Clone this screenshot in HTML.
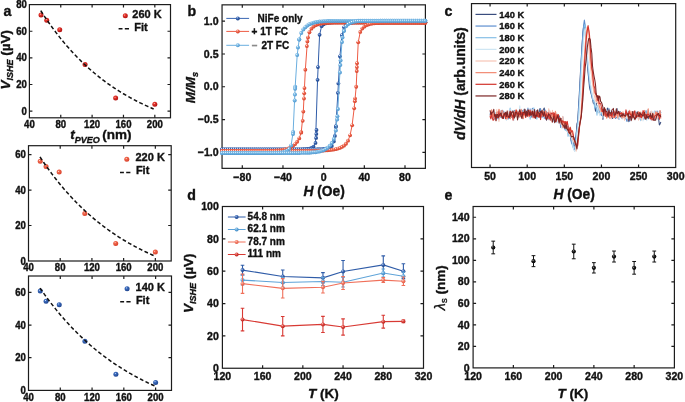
<!DOCTYPE html>
<html><head><meta charset="utf-8"><title>Figure</title><style>html,body{margin:0;padding:0;background:#fff;width:685px;height:402px;overflow:hidden}svg{display:block;font-family:"Liberation Sans",sans-serif;will-change:transform}svg text{stroke:#111;stroke-width:0.35px}</style></head><body>
<svg width="685" height="402" viewBox="0 0 685 402" font-family="Liberation Sans, sans-serif"><defs>
<radialGradient id="gr" cx="0.38" cy="0.35" r="0.65">
 <stop offset="0" stop-color="#ffd8d0"/><stop offset="0.25" stop-color="#e83a30"/><stop offset="1" stop-color="#b01010"/></radialGradient>
<radialGradient id="go" cx="0.38" cy="0.35" r="0.65">
 <stop offset="0" stop-color="#ffe4dc"/><stop offset="0.25" stop-color="#f26a50"/><stop offset="1" stop-color="#d8402a"/></radialGradient>
<radialGradient id="gb" cx="0.38" cy="0.35" r="0.65">
 <stop offset="0" stop-color="#d8e6ff"/><stop offset="0.25" stop-color="#3f6fc0"/><stop offset="1" stop-color="#1f4590"/></radialGradient>
<radialGradient id="gk" cx="0.38" cy="0.35" r="0.65">
 <stop offset="0" stop-color="#bbbbbb"/><stop offset="0.3" stop-color="#222"/><stop offset="1" stop-color="#000"/></radialGradient>
<radialGradient id="wdb" cx="0.36" cy="0.32" r="0.7"><stop offset="0" stop-color="#ffffff"/><stop offset="0.3" stop-color="#3b68b5"/><stop offset="1" stop-color="#1f4488"/></radialGradient><radialGradient id="wrd" cx="0.36" cy="0.32" r="0.7"><stop offset="0" stop-color="#ffffff"/><stop offset="0.3" stop-color="#f06a52"/><stop offset="1" stop-color="#d4402a"/></radialGradient><radialGradient id="wlb" cx="0.36" cy="0.32" r="0.7"><stop offset="0" stop-color="#ffffff"/><stop offset="0.3" stop-color="#7cbbe6"/><stop offset="1" stop-color="#4f97cf"/></radialGradient><radialGradient id="sdb" cx="0.36" cy="0.32" r="0.7"><stop offset="0" stop-color="#bacae5"/><stop offset="0.4" stop-color="#3b68b5"/><stop offset="1" stop-color="#1f4488"/></radialGradient><radialGradient id="srd" cx="0.36" cy="0.32" r="0.7"><stop offset="0" stop-color="#facbc2"/><stop offset="0.4" stop-color="#f06a52"/><stop offset="1" stop-color="#d4402a"/></radialGradient><radialGradient id="slb" cx="0.36" cy="0.32" r="0.7"><stop offset="0" stop-color="#d1e7f6"/><stop offset="0.4" stop-color="#7cbbe6"/><stop offset="1" stop-color="#4f97cf"/></radialGradient><radialGradient id="sd1" cx="0.36" cy="0.32" r="0.7"><stop offset="0" stop-color="#bacae5"/><stop offset="0.4" stop-color="#3b68b5"/><stop offset="1" stop-color="#1f4488"/></radialGradient><radialGradient id="sd2" cx="0.36" cy="0.32" r="0.7"><stop offset="0" stop-color="#cbe3f4"/><stop offset="0.4" stop-color="#6aaedf"/><stop offset="1" stop-color="#3f88c4"/></radialGradient><radialGradient id="sd3" cx="0.36" cy="0.32" r="0.7"><stop offset="0" stop-color="#fbd3cb"/><stop offset="0.4" stop-color="#f4806a"/><stop offset="1" stop-color="#e05a44"/></radialGradient><radialGradient id="sd4" cx="0.36" cy="0.32" r="0.7"><stop offset="0" stop-color="#f4bfbc"/><stop offset="0.4" stop-color="#e04840"/><stop offset="1" stop-color="#b82420"/></radialGradient></defs>
<rect x="29.4" y="4.6" width="141.1" height="113.2" fill="none" stroke="#1c1c1c" stroke-width="1.2"/>
<path d="M60.76 117.8v-3.0M60.76 4.6v3.0M92.11 117.8v-3.0M92.11 4.6v3.0M123.47 117.8v-3.0M123.47 4.6v3.0M154.82 117.8v-3.0M154.82 4.6v3.0" stroke="#1c1c1c" stroke-width="1.2" fill="none"/>
<path d="M29.4 111.14h3.0M170.5 111.14h-3.0M29.4 84.51h3.0M170.5 84.51h-3.0M29.4 57.87h3.0M170.5 57.87h-3.0M29.4 31.24h3.0M170.5 31.24h-3.0" stroke="#1c1c1c" stroke-width="1.2" fill="none"/>
<text transform="translate(29.4 128) scale(1 1.15)" font-size="9.6" text-anchor="middle" font-weight="bold" font-style="normal" fill="#111" >40</text>
<text transform="translate(60.76 128) scale(1 1.15)" font-size="9.6" text-anchor="middle" font-weight="bold" font-style="normal" fill="#111" >80</text>
<text transform="translate(92.11 128) scale(1 1.15)" font-size="9.6" text-anchor="middle" font-weight="bold" font-style="normal" fill="#111" >120</text>
<text transform="translate(123.47 128) scale(1 1.15)" font-size="9.6" text-anchor="middle" font-weight="bold" font-style="normal" fill="#111" >160</text>
<text transform="translate(154.82 128) scale(1 1.15)" font-size="9.6" text-anchor="middle" font-weight="bold" font-style="normal" fill="#111" >200</text>
<text transform="translate(26.8 114.64) scale(1 1.15)" font-size="9.6" text-anchor="end" font-weight="bold" font-style="normal" fill="#111" >0</text>
<text transform="translate(26.8 88.01) scale(1 1.15)" font-size="9.6" text-anchor="end" font-weight="bold" font-style="normal" fill="#111" >20</text>
<text transform="translate(26.8 61.37) scale(1 1.15)" font-size="9.6" text-anchor="end" font-weight="bold" font-style="normal" fill="#111" >40</text>
<text transform="translate(26.8 34.74) scale(1 1.15)" font-size="9.6" text-anchor="end" font-weight="bold" font-style="normal" fill="#111" >60</text>
<text transform="translate(26.8 8.1) scale(1 1.15)" font-size="9.6" text-anchor="end" font-weight="bold" font-style="normal" fill="#111" >80</text>
<circle cx="41" cy="14.9" r="2.5" fill="url(#gr)"/>
<circle cx="46.72" cy="20.3" r="2.5" fill="url(#gr)"/>
<circle cx="59.74" cy="29.7" r="2.5" fill="url(#gr)"/>
<circle cx="85.06" cy="64.6" r="2.5" fill="url(#gr)"/>
<circle cx="115.63" cy="98" r="2.5" fill="url(#gr)"/>
<circle cx="154.82" cy="104.2" r="2.5" fill="url(#gr)"/>
<path d="M40.77 10.67 L41.94 12.5 L43.12 14.3 L44.29 16.08 L45.47 17.84 L46.65 19.57 L47.82 21.28 L49 22.96 L50.17 24.63 L51.35 26.26 L52.52 27.88 L53.7 29.48 L54.88 31.05 L56.05 32.6 L57.23 34.13 L58.4 35.64 L59.58 37.13 L60.76 38.6 L61.93 40.05 L63.11 41.48 L64.28 42.89 L65.46 44.28 L66.63 45.65 L67.81 47 L68.99 48.34 L70.16 49.66 L71.34 50.95 L72.51 52.24 L73.69 53.5 L74.87 54.74 L76.04 55.97 L77.22 57.19 L78.39 58.38 L79.57 59.56 L80.74 60.73 L81.92 61.87 L83.1 63.01 L84.27 64.12 L85.45 65.22 L86.62 66.31 L87.8 67.38 L88.98 68.44 L90.15 69.48 L91.33 70.51 L92.5 71.52 L93.68 72.53 L94.85 73.51 L96.03 74.49 L97.21 75.45 L98.38 76.39 L99.56 77.33 L100.73 78.25 L101.91 79.16 L103.09 80.06 L104.26 80.94 L105.44 81.81 L106.61 82.67 L107.79 83.52 L108.96 84.36 L110.14 85.19 L111.32 86 L112.49 86.8 L113.67 87.6 L114.84 88.38 L116.02 89.15 L117.2 89.91 L118.37 90.66 L119.55 91.4 L120.72 92.13 L121.9 92.85 L123.07 93.56 L124.25 94.26 L125.43 94.95 L126.6 95.63 L127.78 96.31 L128.95 96.97 L130.13 97.62 L131.31 98.27 L132.48 98.91 L133.66 99.53 L134.83 100.15 L136.01 100.76 L137.18 101.37 L138.36 101.96 L139.54 102.55 L140.71 103.12 L141.89 103.69 L143.06 104.26 L144.24 104.81 L145.42 105.36 L146.59 105.9 L147.77 106.43 L148.94 106.96 L150.12 107.48 L151.29 107.99 L152.47 108.49 L153.65 108.99" fill="none" stroke="#111" stroke-width="1.5" stroke-dasharray="3.8 2.4"/>
<circle cx="125.3" cy="15.8" r="2.5" fill="url(#gr)"/>
<text x="132.3" y="18.1" font-size="11" text-anchor="start" font-weight="bold" font-style="normal" fill="#111" >260 K</text>
<path d="M118.6 28.8h3.9M124.8 28.8h4.2" stroke="#111" stroke-width="1.4"/>
<text x="134.3" y="30.5" font-size="11" text-anchor="start" font-weight="bold" font-style="normal" fill="#111" >Fit</text>
<rect x="28.5" y="145.7" width="142.7" height="115.3" fill="none" stroke="#1c1c1c" stroke-width="1.2"/>
<path d="M60.21 261v-3.0M60.21 145.7v3.0M91.92 261v-3.0M91.92 145.7v3.0M123.63 261v-3.0M123.63 145.7v3.0M155.34 261v-3.0M155.34 145.7v3.0" stroke="#1c1c1c" stroke-width="1.2" fill="none"/>
<path d="M28.5 225.52h3.0M171.2 225.52h-3.0M28.5 190.05h3.0M171.2 190.05h-3.0M28.5 154.57h3.0M171.2 154.57h-3.0" stroke="#1c1c1c" stroke-width="1.2" fill="none"/>
<text transform="translate(28.5 271.2) scale(1 1.15)" font-size="9.6" text-anchor="middle" font-weight="bold" font-style="normal" fill="#111" >40</text>
<text transform="translate(60.21 271.2) scale(1 1.15)" font-size="9.6" text-anchor="middle" font-weight="bold" font-style="normal" fill="#111" >80</text>
<text transform="translate(91.92 271.2) scale(1 1.15)" font-size="9.6" text-anchor="middle" font-weight="bold" font-style="normal" fill="#111" >120</text>
<text transform="translate(123.63 271.2) scale(1 1.15)" font-size="9.6" text-anchor="middle" font-weight="bold" font-style="normal" fill="#111" >160</text>
<text transform="translate(155.34 271.2) scale(1 1.15)" font-size="9.6" text-anchor="middle" font-weight="bold" font-style="normal" fill="#111" >200</text>
<text transform="translate(25.9 264.5) scale(1 1.15)" font-size="9.6" text-anchor="end" font-weight="bold" font-style="normal" fill="#111" >0</text>
<text transform="translate(25.9 229.03) scale(1 1.15)" font-size="9.6" text-anchor="end" font-weight="bold" font-style="normal" fill="#111" >20</text>
<text transform="translate(25.9 193.55) scale(1 1.15)" font-size="9.6" text-anchor="end" font-weight="bold" font-style="normal" fill="#111" >40</text>
<text transform="translate(25.9 158.07) scale(1 1.15)" font-size="9.6" text-anchor="end" font-weight="bold" font-style="normal" fill="#111" >60</text>
<circle cx="40.23" cy="161.3" r="2.5" fill="url(#go)"/>
<circle cx="46.02" cy="166.5" r="2.5" fill="url(#go)"/>
<circle cx="59.18" cy="172.1" r="2.5" fill="url(#go)"/>
<circle cx="84.79" cy="213.6" r="2.5" fill="url(#go)"/>
<circle cx="115.71" cy="243.4" r="2.5" fill="url(#go)"/>
<circle cx="155.34" cy="252" r="2.5" fill="url(#go)"/>
<path d="M40 156.94 L41.18 158.73 L42.37 160.5 L43.56 162.25 L44.75 163.97 L45.94 165.67 L47.13 167.35 L48.32 169.01 L49.51 170.64 L50.7 172.26 L51.89 173.85 L53.08 175.42 L54.27 176.98 L55.45 178.51 L56.64 180.02 L57.83 181.51 L59.02 182.99 L60.21 184.44 L61.4 185.88 L62.59 187.3 L63.78 188.69 L64.97 190.08 L66.16 191.44 L67.35 192.78 L68.54 194.11 L69.72 195.42 L70.91 196.72 L72.1 197.99 L73.29 199.25 L74.48 200.5 L75.67 201.73 L76.86 202.94 L78.05 204.14 L79.24 205.32 L80.43 206.48 L81.62 207.63 L82.81 208.77 L83.99 209.89 L85.18 211 L86.37 212.09 L87.56 213.17 L88.75 214.23 L89.94 215.28 L91.13 216.32 L92.32 217.34 L93.51 218.35 L94.7 219.35 L95.89 220.33 L97.08 221.31 L98.26 222.26 L99.45 223.21 L100.64 224.15 L101.83 225.07 L103.02 225.98 L104.21 226.88 L105.4 227.76 L106.59 228.64 L107.78 229.5 L108.97 230.36 L110.16 231.2 L111.35 232.03 L112.53 232.85 L113.72 233.66 L114.91 234.46 L116.1 235.25 L117.29 236.02 L118.48 236.79 L119.67 237.55 L120.86 238.3 L122.05 239.04 L123.24 239.77 L124.43 240.49 L125.62 241.2 L126.8 241.9 L127.99 242.59 L129.18 243.28 L130.37 243.95 L131.56 244.62 L132.75 245.28 L133.94 245.92 L135.13 246.56 L136.32 247.2 L137.51 247.82 L138.7 248.44 L139.89 249.04 L141.07 249.65 L142.26 250.24 L143.45 250.82 L144.64 251.4 L145.83 251.97 L147.02 252.53 L148.21 253.09 L149.4 253.63 L150.59 254.17 L151.78 254.71 L152.97 255.23 L154.16 255.75" fill="none" stroke="#111" stroke-width="1.5" stroke-dasharray="3.8 2.4"/>
<circle cx="126.8" cy="159.2" r="2.5" fill="url(#go)"/>
<text x="135.5" y="161.2" font-size="11" text-anchor="start" font-weight="bold" font-style="normal" fill="#111" >220 K</text>
<path d="M120 172.5h3.9M126.2 172.5h4.2" stroke="#111" stroke-width="1.4"/>
<text x="135.9" y="174.3" font-size="11" text-anchor="start" font-weight="bold" font-style="normal" fill="#111" >Fit</text>
<rect x="28.5" y="276" width="143" height="114.4" fill="none" stroke="#1c1c1c" stroke-width="1.2"/>
<path d="M60.28 390.4v-3.0M60.28 276v3.0M92.06 390.4v-3.0M92.06 276v3.0M123.83 390.4v-3.0M123.83 276v3.0M155.61 390.4v-3.0M155.61 276v3.0" stroke="#1c1c1c" stroke-width="1.2" fill="none"/>
<path d="M28.5 357.71h3.0M171.5 357.71h-3.0M28.5 325.03h3.0M171.5 325.03h-3.0M28.5 292.34h3.0M171.5 292.34h-3.0" stroke="#1c1c1c" stroke-width="1.2" fill="none"/>
<text transform="translate(28.5 400.6) scale(1 1.15)" font-size="9.6" text-anchor="middle" font-weight="bold" font-style="normal" fill="#111" >40</text>
<text transform="translate(60.28 400.6) scale(1 1.15)" font-size="9.6" text-anchor="middle" font-weight="bold" font-style="normal" fill="#111" >80</text>
<text transform="translate(92.06 400.6) scale(1 1.15)" font-size="9.6" text-anchor="middle" font-weight="bold" font-style="normal" fill="#111" >120</text>
<text transform="translate(123.83 400.6) scale(1 1.15)" font-size="9.6" text-anchor="middle" font-weight="bold" font-style="normal" fill="#111" >160</text>
<text transform="translate(155.61 400.6) scale(1 1.15)" font-size="9.6" text-anchor="middle" font-weight="bold" font-style="normal" fill="#111" >200</text>
<text transform="translate(25.9 393.9) scale(1 1.15)" font-size="9.6" text-anchor="end" font-weight="bold" font-style="normal" fill="#111" >0</text>
<text transform="translate(25.9 361.22) scale(1 1.15)" font-size="9.6" text-anchor="end" font-weight="bold" font-style="normal" fill="#111" >20</text>
<text transform="translate(25.9 328.53) scale(1 1.15)" font-size="9.6" text-anchor="end" font-weight="bold" font-style="normal" fill="#111" >40</text>
<text transform="translate(25.9 295.85) scale(1 1.15)" font-size="9.6" text-anchor="end" font-weight="bold" font-style="normal" fill="#111" >60</text>
<circle cx="40.26" cy="291" r="2.5" fill="url(#gb)"/>
<circle cx="46.06" cy="301.2" r="2.5" fill="url(#gb)"/>
<circle cx="59.25" cy="304.7" r="2.5" fill="url(#gb)"/>
<circle cx="84.91" cy="341.3" r="2.5" fill="url(#gb)"/>
<circle cx="115.89" cy="374.2" r="2.5" fill="url(#gb)"/>
<circle cx="155.61" cy="382.4" r="2.5" fill="url(#gb)"/>
<path d="M40.02 288.07 L41.21 289.79 L42.4 291.49 L43.59 293.17 L44.79 294.83 L45.98 296.47 L47.17 298.09 L48.36 299.69 L49.55 301.27 L50.74 302.84 L51.94 304.38 L53.13 305.9 L54.32 307.41 L55.51 308.89 L56.7 310.36 L57.89 311.81 L59.09 313.25 L60.28 314.66 L61.47 316.06 L62.66 317.44 L63.85 318.8 L65.04 320.15 L66.24 321.48 L67.43 322.8 L68.62 324.1 L69.81 325.38 L71 326.65 L72.19 327.9 L73.39 329.14 L74.58 330.36 L75.77 331.56 L76.96 332.76 L78.15 333.93 L79.34 335.1 L80.54 336.25 L81.73 337.38 L82.92 338.5 L84.11 339.61 L85.3 340.7 L86.49 341.78 L87.69 342.85 L88.88 343.9 L90.07 344.95 L91.26 345.98 L92.45 346.99 L93.64 347.99 L94.84 348.99 L96.03 349.97 L97.22 350.93 L98.41 351.89 L99.6 352.83 L100.79 353.77 L101.99 354.69 L103.18 355.6 L104.37 356.49 L105.56 357.38 L106.75 358.26 L107.94 359.13 L109.14 359.98 L110.33 360.83 L111.52 361.66 L112.71 362.49 L113.9 363.3 L115.09 364.11 L116.29 364.9 L117.48 365.69 L118.67 366.46 L119.86 367.23 L121.05 367.98 L122.24 368.73 L123.44 369.47 L124.63 370.2 L125.82 370.92 L127.01 371.63 L128.2 372.34 L129.39 373.03 L130.59 373.72 L131.78 374.39 L132.97 375.06 L134.16 375.72 L135.35 376.38 L136.54 377.02 L137.74 377.66 L138.93 378.29 L140.12 378.91 L141.31 379.53 L142.5 380.13 L143.69 380.73 L144.89 381.32 L146.08 381.91 L147.27 382.49 L148.46 383.06 L149.65 383.62 L150.84 384.18 L152.04 384.73 L153.23 385.27 L154.42 385.81" fill="none" stroke="#111" stroke-width="1.5" stroke-dasharray="3.8 2.4"/>
<circle cx="127.1" cy="288.7" r="2.5" fill="url(#gb)"/>
<text x="135.6" y="290.8" font-size="11" text-anchor="start" font-weight="bold" font-style="normal" fill="#111" >140 K</text>
<path d="M120.2 301.8h3.9M126.4 301.8h4.2" stroke="#111" stroke-width="1.4"/>
<text x="135.9" y="303.8" font-size="11" text-anchor="start" font-weight="bold" font-style="normal" fill="#111" >Fit</text>
<text x="3.6" y="16.1" font-size="14.2" text-anchor="start" font-weight="bold" font-style="normal" fill="#111" >a</text>
<text transform="translate(9.9 89.6) rotate(-90)" font-size="13.5" font-weight="bold" fill="#111"><tspan font-style="italic">V</tspan><tspan font-style="italic" font-size="9" dy="2.8">ISHE</tspan><tspan dy="-2.8"> (µV)</tspan></text>
<text x="70.2" y="139.2" font-size="13.5" font-weight="bold" fill="#111"><tspan font-style="italic">t</tspan><tspan font-style="italic" font-size="9" dy="3.6">PVEO</tspan><tspan dy="-3.6" dx="-1.2"> (nm)</tspan></text>
<rect x="222.05" y="4.85" width="203.35" height="163.5" fill="none" stroke="#1c1c1c" stroke-width="1.2"/>
<path d="M242.3 168.35v-3.0M242.3 4.85v3.0M282.97 168.35v-3.0M282.97 4.85v3.0M323.65 168.35v-3.0M323.65 4.85v3.0M364.33 168.35v-3.0M364.33 4.85v3.0M405 168.35v-3.0M405 4.85v3.0" stroke="#1c1c1c" stroke-width="1.2" fill="none"/>
<path d="M222.05 21.2h3.0M425.4 21.2h-3.0M222.05 53.98h3.0M425.4 53.98h-3.0M222.05 86.75h3.0M425.4 86.75h-3.0M222.05 119.53h3.0M425.4 119.53h-3.0M222.05 152.3h3.0M425.4 152.3h-3.0" stroke="#1c1c1c" stroke-width="1.2" fill="none"/>
<text transform="translate(242.3 180.5) scale(1 1.08)" font-size="10.6" text-anchor="middle" font-weight="bold" font-style="normal" fill="#111" >−80</text>
<text transform="translate(282.97 180.5) scale(1 1.08)" font-size="10.6" text-anchor="middle" font-weight="bold" font-style="normal" fill="#111" >−40</text>
<text transform="translate(323.65 180.5) scale(1 1.08)" font-size="10.6" text-anchor="middle" font-weight="bold" font-style="normal" fill="#111" >0</text>
<text transform="translate(364.33 180.5) scale(1 1.08)" font-size="10.6" text-anchor="middle" font-weight="bold" font-style="normal" fill="#111" >40</text>
<text transform="translate(405 180.5) scale(1 1.08)" font-size="10.6" text-anchor="middle" font-weight="bold" font-style="normal" fill="#111" >80</text>
<text transform="translate(218.6 24.85) scale(1 1.08)" font-size="10.6" text-anchor="end" font-weight="bold" font-style="normal" fill="#111" >1.0</text>
<text transform="translate(218.6 57.62) scale(1 1.08)" font-size="10.6" text-anchor="end" font-weight="bold" font-style="normal" fill="#111" >0.5</text>
<text transform="translate(218.6 90.4) scale(1 1.08)" font-size="10.6" text-anchor="end" font-weight="bold" font-style="normal" fill="#111" >0.0</text>
<text transform="translate(218.6 123.17) scale(1 1.08)" font-size="10.6" text-anchor="end" font-weight="bold" font-style="normal" fill="#111" >−0.5</text>
<text transform="translate(218.6 155.95) scale(1 1.08)" font-size="10.6" text-anchor="end" font-weight="bold" font-style="normal" fill="#111" >−1.0</text>
<text x="187.6" y="16" font-size="14.2" text-anchor="start" font-weight="bold" font-style="normal" fill="#111" >b</text>
<path d="M425.34 22.18 L423.31 22.18 L421.27 22.18 L419.24 22.18 L417.2 22.18 L415.17 22.18 L413.14 22.18 L411.1 22.18 L409.07 22.18 L407.04 22.18 L405 22.18 L402.97 22.18 L400.93 22.18 L398.9 22.18 L396.87 22.18 L394.83 22.18 L392.8 22.18 L390.77 22.18 L388.73 22.18 L386.7 22.18 L384.66 22.18 L382.63 22.18 L380.6 22.18 L378.56 22.18 L376.53 22.18 L374.5 22.18 L372.46 22.18 L370.43 22.18 L368.39 22.18 L366.36 22.18 L364.33 22.18 L362.29 22.18 L360.26 22.18 L358.22 22.18 L356.19 22.18 L354.16 22.18 L352.12 22.19 L350.09 22.19 L348.06 22.19 L346.02 22.19 L343.99 22.2 L341.95 22.21 L339.92 22.22 L337.89 22.25 L335.85 22.29 L333.82 22.35 L331.79 22.46 L329.75 22.64 L327.72 22.94 L325.68 23.43 L323.65 24.29 L321.62 26.21 L319.58 34.86 L317.55 79.87 L315.51 142.93 L313.48 146.7 L311.45 147.99 L309.41 148.65 L307.38 148.99 L305.35 149.17 L303.31 149.26 L301.28 149.3 L299.24 149.33 L297.21 149.34 L295.18 149.34 L293.14 149.35 L291.11 149.35 L289.08 149.35 L287.04 149.35 L285.01 149.35 L282.97 149.35 L280.94 149.35 L278.91 149.35 L276.87 149.35 L274.84 149.35 L272.8 149.35 L270.77 149.35 L268.74 149.35 L266.7 149.35 L264.67 149.35 L262.64 149.35 L260.6 149.35 L258.57 149.35 L256.53 149.35 L254.5 149.35 L252.47 149.35 L250.43 149.35 L248.4 149.35 L246.37 149.35 L244.33 149.35 L242.3 149.35 L240.26 149.35 L238.23 149.35 L236.2 149.35 L234.16 149.35 L232.13 149.35 L230.1 149.35 L228.06 149.35 L226.03 149.35 L223.99 149.35 L221.96 149.35 L221.96 149.35 L223.99 149.35 L226.03 149.35 L228.06 149.35 L230.1 149.35 L232.13 149.35 L234.16 149.35 L236.2 149.35 L238.23 149.35 L240.26 149.35 L242.3 149.35 L244.33 149.35 L246.37 149.35 L248.4 149.35 L250.43 149.35 L252.47 149.35 L254.5 149.35 L256.53 149.35 L258.57 149.35 L260.6 149.35 L262.64 149.35 L264.67 149.35 L266.7 149.35 L268.74 149.35 L270.77 149.35 L272.8 149.35 L274.84 149.35 L276.87 149.35 L278.91 149.35 L280.94 149.35 L282.97 149.35 L285.01 149.35 L287.04 149.35 L289.08 149.35 L291.11 149.35 L293.14 149.35 L295.18 149.35 L297.21 149.35 L299.24 149.35 L301.28 149.35 L303.31 149.35 L305.35 149.35 L307.38 149.34 L309.41 149.34 L311.45 149.33 L313.48 149.32 L315.51 149.3 L317.55 149.27 L319.58 149.22 L321.62 149.14 L323.65 149 L325.68 148.77 L327.72 148.36 L329.75 147.62 L331.79 145.99 L333.82 141.45 L335.85 127.08 L337.89 92.84 L339.92 56.32 L341.95 35.2 L343.99 27.35 L346.02 24.58 L348.06 23.45 L350.09 22.91 L352.12 22.61 L354.16 22.44 L356.19 22.34 L358.22 22.28 L360.26 22.24 L362.29 22.22 L364.33 22.2 L366.36 22.2 L368.39 22.19 L370.43 22.19 L372.46 22.19 L374.5 22.18 L376.53 22.18 L378.56 22.18 L380.6 22.18 L382.63 22.18 L384.66 22.18 L386.7 22.18 L388.73 22.18 L390.77 22.18 L392.8 22.18 L394.83 22.18 L396.87 22.18 L398.9 22.18 L400.93 22.18 L402.97 22.18 L405 22.18 L407.04 22.18 L409.07 22.18 L411.1 22.18 L413.14 22.18 L415.17 22.18 L417.2 22.18 L419.24 22.18 L421.27 22.18 L423.31 22.18 L425.34 22.18" fill="none" stroke="#2f5ca8" stroke-width="1"/>
<g fill="url(#wdb)"><circle cx="425.34" cy="22.18" r="1.9"/><circle cx="423.31" cy="22.18" r="1.9"/><circle cx="421.27" cy="22.18" r="1.9"/><circle cx="419.24" cy="22.18" r="1.9"/><circle cx="417.2" cy="22.18" r="1.9"/><circle cx="415.17" cy="22.18" r="1.9"/><circle cx="413.14" cy="22.18" r="1.9"/><circle cx="411.1" cy="22.18" r="1.9"/><circle cx="409.07" cy="22.18" r="1.9"/><circle cx="407.04" cy="22.18" r="1.9"/><circle cx="405" cy="22.18" r="1.9"/><circle cx="402.97" cy="22.18" r="1.9"/><circle cx="400.93" cy="22.18" r="1.9"/><circle cx="398.9" cy="22.18" r="1.9"/><circle cx="396.87" cy="22.18" r="1.9"/><circle cx="394.83" cy="22.18" r="1.9"/><circle cx="392.8" cy="22.18" r="1.9"/><circle cx="390.77" cy="22.18" r="1.9"/><circle cx="388.73" cy="22.18" r="1.9"/><circle cx="386.7" cy="22.18" r="1.9"/><circle cx="384.66" cy="22.18" r="1.9"/><circle cx="382.63" cy="22.18" r="1.9"/><circle cx="380.6" cy="22.18" r="1.9"/><circle cx="378.56" cy="22.18" r="1.9"/><circle cx="376.53" cy="22.18" r="1.9"/><circle cx="374.5" cy="22.18" r="1.9"/><circle cx="372.46" cy="22.18" r="1.9"/><circle cx="370.43" cy="22.18" r="1.9"/><circle cx="368.39" cy="22.18" r="1.9"/><circle cx="366.36" cy="22.18" r="1.9"/><circle cx="364.33" cy="22.18" r="1.9"/><circle cx="362.29" cy="22.18" r="1.9"/><circle cx="360.26" cy="22.18" r="1.9"/><circle cx="358.22" cy="22.18" r="1.9"/><circle cx="356.19" cy="22.18" r="1.9"/><circle cx="354.16" cy="22.18" r="1.9"/><circle cx="352.12" cy="22.19" r="1.9"/><circle cx="350.09" cy="22.19" r="1.9"/><circle cx="348.06" cy="22.19" r="1.9"/><circle cx="346.02" cy="22.19" r="1.9"/><circle cx="343.99" cy="22.2" r="1.9"/><circle cx="341.95" cy="22.21" r="1.9"/><circle cx="339.92" cy="22.22" r="1.9"/><circle cx="337.89" cy="22.25" r="1.9"/><circle cx="335.85" cy="22.29" r="1.9"/><circle cx="333.82" cy="22.35" r="1.9"/><circle cx="331.79" cy="22.46" r="1.9"/><circle cx="329.75" cy="22.64" r="1.9"/><circle cx="327.72" cy="22.94" r="1.9"/><circle cx="325.68" cy="23.43" r="1.9"/><circle cx="323.65" cy="24.29" r="1.9"/><circle cx="321.62" cy="26.21" r="1.9"/><circle cx="319.58" cy="34.86" r="1.9"/><circle cx="317.55" cy="79.87" r="1.9"/><circle cx="315.51" cy="142.93" r="1.9"/><circle cx="313.48" cy="146.7" r="1.9"/><circle cx="311.45" cy="147.99" r="1.9"/><circle cx="309.41" cy="148.65" r="1.9"/><circle cx="307.38" cy="148.99" r="1.9"/><circle cx="305.35" cy="149.17" r="1.9"/><circle cx="303.31" cy="149.26" r="1.9"/><circle cx="301.28" cy="149.3" r="1.9"/><circle cx="299.24" cy="149.33" r="1.9"/><circle cx="297.21" cy="149.34" r="1.9"/><circle cx="295.18" cy="149.34" r="1.9"/><circle cx="293.14" cy="149.35" r="1.9"/><circle cx="291.11" cy="149.35" r="1.9"/><circle cx="289.08" cy="149.35" r="1.9"/><circle cx="287.04" cy="149.35" r="1.9"/><circle cx="285.01" cy="149.35" r="1.9"/><circle cx="282.97" cy="149.35" r="1.9"/><circle cx="280.94" cy="149.35" r="1.9"/><circle cx="278.91" cy="149.35" r="1.9"/><circle cx="276.87" cy="149.35" r="1.9"/><circle cx="274.84" cy="149.35" r="1.9"/><circle cx="272.8" cy="149.35" r="1.9"/><circle cx="270.77" cy="149.35" r="1.9"/><circle cx="268.74" cy="149.35" r="1.9"/><circle cx="266.7" cy="149.35" r="1.9"/><circle cx="264.67" cy="149.35" r="1.9"/><circle cx="262.64" cy="149.35" r="1.9"/><circle cx="260.6" cy="149.35" r="1.9"/><circle cx="258.57" cy="149.35" r="1.9"/><circle cx="256.53" cy="149.35" r="1.9"/><circle cx="254.5" cy="149.35" r="1.9"/><circle cx="252.47" cy="149.35" r="1.9"/><circle cx="250.43" cy="149.35" r="1.9"/><circle cx="248.4" cy="149.35" r="1.9"/><circle cx="246.37" cy="149.35" r="1.9"/><circle cx="244.33" cy="149.35" r="1.9"/><circle cx="242.3" cy="149.35" r="1.9"/><circle cx="240.26" cy="149.35" r="1.9"/><circle cx="238.23" cy="149.35" r="1.9"/><circle cx="236.2" cy="149.35" r="1.9"/><circle cx="234.16" cy="149.35" r="1.9"/><circle cx="232.13" cy="149.35" r="1.9"/><circle cx="230.1" cy="149.35" r="1.9"/><circle cx="228.06" cy="149.35" r="1.9"/><circle cx="226.03" cy="149.35" r="1.9"/><circle cx="223.99" cy="149.35" r="1.9"/><circle cx="221.96" cy="149.35" r="1.9"/><circle cx="221.96" cy="149.35" r="1.9"/><circle cx="223.99" cy="149.35" r="1.9"/><circle cx="226.03" cy="149.35" r="1.9"/><circle cx="228.06" cy="149.35" r="1.9"/><circle cx="230.1" cy="149.35" r="1.9"/><circle cx="232.13" cy="149.35" r="1.9"/><circle cx="234.16" cy="149.35" r="1.9"/><circle cx="236.2" cy="149.35" r="1.9"/><circle cx="238.23" cy="149.35" r="1.9"/><circle cx="240.26" cy="149.35" r="1.9"/><circle cx="242.3" cy="149.35" r="1.9"/><circle cx="244.33" cy="149.35" r="1.9"/><circle cx="246.37" cy="149.35" r="1.9"/><circle cx="248.4" cy="149.35" r="1.9"/><circle cx="250.43" cy="149.35" r="1.9"/><circle cx="252.47" cy="149.35" r="1.9"/><circle cx="254.5" cy="149.35" r="1.9"/><circle cx="256.53" cy="149.35" r="1.9"/><circle cx="258.57" cy="149.35" r="1.9"/><circle cx="260.6" cy="149.35" r="1.9"/><circle cx="262.64" cy="149.35" r="1.9"/><circle cx="264.67" cy="149.35" r="1.9"/><circle cx="266.7" cy="149.35" r="1.9"/><circle cx="268.74" cy="149.35" r="1.9"/><circle cx="270.77" cy="149.35" r="1.9"/><circle cx="272.8" cy="149.35" r="1.9"/><circle cx="274.84" cy="149.35" r="1.9"/><circle cx="276.87" cy="149.35" r="1.9"/><circle cx="278.91" cy="149.35" r="1.9"/><circle cx="280.94" cy="149.35" r="1.9"/><circle cx="282.97" cy="149.35" r="1.9"/><circle cx="285.01" cy="149.35" r="1.9"/><circle cx="287.04" cy="149.35" r="1.9"/><circle cx="289.08" cy="149.35" r="1.9"/><circle cx="291.11" cy="149.35" r="1.9"/><circle cx="293.14" cy="149.35" r="1.9"/><circle cx="295.18" cy="149.35" r="1.9"/><circle cx="297.21" cy="149.35" r="1.9"/><circle cx="299.24" cy="149.35" r="1.9"/><circle cx="301.28" cy="149.35" r="1.9"/><circle cx="303.31" cy="149.35" r="1.9"/><circle cx="305.35" cy="149.35" r="1.9"/><circle cx="307.38" cy="149.34" r="1.9"/><circle cx="309.41" cy="149.34" r="1.9"/><circle cx="311.45" cy="149.33" r="1.9"/><circle cx="313.48" cy="149.32" r="1.9"/><circle cx="315.51" cy="149.3" r="1.9"/><circle cx="317.55" cy="149.27" r="1.9"/><circle cx="319.58" cy="149.22" r="1.9"/><circle cx="321.62" cy="149.14" r="1.9"/><circle cx="323.65" cy="149" r="1.9"/><circle cx="325.68" cy="148.77" r="1.9"/><circle cx="327.72" cy="148.36" r="1.9"/><circle cx="329.75" cy="147.62" r="1.9"/><circle cx="331.79" cy="145.99" r="1.9"/><circle cx="333.82" cy="141.45" r="1.9"/><circle cx="335.85" cy="127.08" r="1.9"/><circle cx="337.89" cy="92.84" r="1.9"/><circle cx="339.92" cy="56.32" r="1.9"/><circle cx="341.95" cy="35.2" r="1.9"/><circle cx="343.99" cy="27.35" r="1.9"/><circle cx="346.02" cy="24.58" r="1.9"/><circle cx="348.06" cy="23.45" r="1.9"/><circle cx="350.09" cy="22.91" r="1.9"/><circle cx="352.12" cy="22.61" r="1.9"/><circle cx="354.16" cy="22.44" r="1.9"/><circle cx="356.19" cy="22.34" r="1.9"/><circle cx="358.22" cy="22.28" r="1.9"/><circle cx="360.26" cy="22.24" r="1.9"/><circle cx="362.29" cy="22.22" r="1.9"/><circle cx="364.33" cy="22.2" r="1.9"/><circle cx="366.36" cy="22.2" r="1.9"/><circle cx="368.39" cy="22.19" r="1.9"/><circle cx="370.43" cy="22.19" r="1.9"/><circle cx="372.46" cy="22.19" r="1.9"/><circle cx="374.5" cy="22.18" r="1.9"/><circle cx="376.53" cy="22.18" r="1.9"/><circle cx="378.56" cy="22.18" r="1.9"/><circle cx="380.6" cy="22.18" r="1.9"/><circle cx="382.63" cy="22.18" r="1.9"/><circle cx="384.66" cy="22.18" r="1.9"/><circle cx="386.7" cy="22.18" r="1.9"/><circle cx="388.73" cy="22.18" r="1.9"/><circle cx="390.77" cy="22.18" r="1.9"/><circle cx="392.8" cy="22.18" r="1.9"/><circle cx="394.83" cy="22.18" r="1.9"/><circle cx="396.87" cy="22.18" r="1.9"/><circle cx="398.9" cy="22.18" r="1.9"/><circle cx="400.93" cy="22.18" r="1.9"/><circle cx="402.97" cy="22.18" r="1.9"/><circle cx="405" cy="22.18" r="1.9"/><circle cx="407.04" cy="22.18" r="1.9"/><circle cx="409.07" cy="22.18" r="1.9"/><circle cx="411.1" cy="22.18" r="1.9"/><circle cx="413.14" cy="22.18" r="1.9"/><circle cx="415.17" cy="22.18" r="1.9"/><circle cx="417.2" cy="22.18" r="1.9"/><circle cx="419.24" cy="22.18" r="1.9"/><circle cx="421.27" cy="22.18" r="1.9"/><circle cx="423.31" cy="22.18" r="1.9"/><circle cx="425.34" cy="22.18" r="1.9"/><circle cx="317.94" cy="67.09" r="1.9"/><circle cx="316.5" cy="130.01" r="1.9"/><circle cx="316.34" cy="133.95" r="1.9"/><circle cx="316.11" cy="137.88" r="1.9"/><circle cx="338.37" cy="83.47" r="1.9"/><circle cx="335.94" cy="126.08" r="1.9"/><circle cx="334.89" cy="135.91" r="1.9"/></g>
<path d="M425.34 22.77 L423.31 22.77 L421.27 22.77 L419.24 22.77 L417.2 22.77 L415.17 22.77 L413.14 22.77 L411.1 22.77 L409.07 22.77 L407.04 22.77 L405 22.77 L402.97 22.77 L400.93 22.77 L398.9 22.77 L396.87 22.77 L394.83 22.77 L392.8 22.77 L390.77 22.77 L388.73 22.77 L386.7 22.77 L384.66 22.77 L382.63 22.77 L380.6 22.77 L378.56 22.77 L376.53 22.77 L374.5 22.77 L372.46 22.77 L370.43 22.77 L368.39 22.77 L366.36 22.77 L364.33 22.77 L362.29 22.77 L360.26 22.77 L358.22 22.77 L356.19 22.77 L354.16 22.77 L352.12 22.78 L350.09 22.78 L348.06 22.78 L346.02 22.78 L343.99 22.78 L341.95 22.79 L339.92 22.79 L337.89 22.8 L335.85 22.82 L333.82 22.84 L331.79 22.88 L329.75 22.93 L327.72 23.01 L325.68 23.12 L323.65 23.29 L321.62 23.55 L319.58 23.93 L317.55 24.5 L315.51 25.36 L313.48 26.64 L311.45 28.65 L309.41 32.25 L307.38 41.43 L305.35 69.69 L303.31 111.57 L301.28 132.06 L299.24 138.44 L297.21 141.77 L295.18 144.08 L293.14 145.8 L291.11 147.09 L289.08 148.06 L287.04 148.79 L285.01 149.33 L282.97 149.75 L280.94 150.05 L278.91 150.29 L276.87 150.46 L274.84 150.59 L272.8 150.69 L270.77 150.77 L268.74 150.82 L266.7 150.86 L264.67 150.89 L262.64 150.92 L260.6 150.94 L258.57 150.95 L256.53 150.96 L254.5 150.97 L252.47 150.97 L250.43 150.98 L248.4 150.98 L246.37 150.98 L244.33 150.98 L242.3 150.98 L240.26 150.99 L238.23 150.99 L236.2 150.99 L234.16 150.99 L232.13 150.99 L230.1 150.99 L228.06 150.99 L226.03 150.99 L223.99 150.99 L221.96 150.99 L221.96 150.99 L223.99 150.99 L226.03 150.99 L228.06 150.99 L230.1 150.99 L232.13 150.99 L234.16 150.99 L236.2 150.99 L238.23 150.99 L240.26 150.99 L242.3 150.99 L244.33 150.99 L246.37 150.99 L248.4 150.99 L250.43 150.99 L252.47 150.99 L254.5 150.99 L256.53 150.99 L258.57 150.99 L260.6 150.99 L262.64 150.99 L264.67 150.99 L266.7 150.99 L268.74 150.99 L270.77 150.99 L272.8 150.99 L274.84 150.99 L276.87 150.99 L278.91 150.99 L280.94 150.99 L282.97 150.99 L285.01 150.99 L287.04 150.98 L289.08 150.98 L291.11 150.98 L293.14 150.98 L295.18 150.98 L297.21 150.97 L299.24 150.97 L301.28 150.96 L303.31 150.96 L305.35 150.95 L307.38 150.93 L309.41 150.92 L311.45 150.9 L313.48 150.87 L315.51 150.84 L317.55 150.79 L319.58 150.74 L321.62 150.67 L323.65 150.58 L325.68 150.46 L327.72 150.31 L329.75 150.12 L331.79 149.87 L333.82 149.55 L335.85 149.14 L337.89 148.6 L339.92 147.91 L341.95 146.97 L343.99 145.68 L346.02 143.77 L348.06 140.7 L350.09 135.28 L352.12 125.29 L354.16 108.34 L356.19 86.75 L358.22 42.28 L360.26 31.93 L362.29 28.59 L364.33 26.65 L366.36 25.37 L368.39 24.51 L370.43 23.94 L372.46 23.56 L374.5 23.3 L376.53 23.12 L378.56 23.01 L380.6 22.93 L382.63 22.88 L384.66 22.84 L386.7 22.82 L388.73 22.81 L390.77 22.79 L392.8 22.79 L394.83 22.78 L396.87 22.78 L398.9 22.78 L400.93 22.78 L402.97 22.78 L405 22.77 L407.04 22.77 L409.07 22.77 L411.1 22.77 L413.14 22.77 L415.17 22.77 L417.2 22.77 L419.24 22.77 L421.27 22.77 L423.31 22.77 L425.34 22.77" fill="none" stroke="#ee5b44" stroke-width="1"/>
<g fill="url(#wrd)"><circle cx="425.34" cy="22.77" r="1.9"/><circle cx="423.31" cy="22.77" r="1.9"/><circle cx="421.27" cy="22.77" r="1.9"/><circle cx="419.24" cy="22.77" r="1.9"/><circle cx="417.2" cy="22.77" r="1.9"/><circle cx="415.17" cy="22.77" r="1.9"/><circle cx="413.14" cy="22.77" r="1.9"/><circle cx="411.1" cy="22.77" r="1.9"/><circle cx="409.07" cy="22.77" r="1.9"/><circle cx="407.04" cy="22.77" r="1.9"/><circle cx="405" cy="22.77" r="1.9"/><circle cx="402.97" cy="22.77" r="1.9"/><circle cx="400.93" cy="22.77" r="1.9"/><circle cx="398.9" cy="22.77" r="1.9"/><circle cx="396.87" cy="22.77" r="1.9"/><circle cx="394.83" cy="22.77" r="1.9"/><circle cx="392.8" cy="22.77" r="1.9"/><circle cx="390.77" cy="22.77" r="1.9"/><circle cx="388.73" cy="22.77" r="1.9"/><circle cx="386.7" cy="22.77" r="1.9"/><circle cx="384.66" cy="22.77" r="1.9"/><circle cx="382.63" cy="22.77" r="1.9"/><circle cx="380.6" cy="22.77" r="1.9"/><circle cx="378.56" cy="22.77" r="1.9"/><circle cx="376.53" cy="22.77" r="1.9"/><circle cx="374.5" cy="22.77" r="1.9"/><circle cx="372.46" cy="22.77" r="1.9"/><circle cx="370.43" cy="22.77" r="1.9"/><circle cx="368.39" cy="22.77" r="1.9"/><circle cx="366.36" cy="22.77" r="1.9"/><circle cx="364.33" cy="22.77" r="1.9"/><circle cx="362.29" cy="22.77" r="1.9"/><circle cx="360.26" cy="22.77" r="1.9"/><circle cx="358.22" cy="22.77" r="1.9"/><circle cx="356.19" cy="22.77" r="1.9"/><circle cx="354.16" cy="22.77" r="1.9"/><circle cx="352.12" cy="22.78" r="1.9"/><circle cx="350.09" cy="22.78" r="1.9"/><circle cx="348.06" cy="22.78" r="1.9"/><circle cx="346.02" cy="22.78" r="1.9"/><circle cx="343.99" cy="22.78" r="1.9"/><circle cx="341.95" cy="22.79" r="1.9"/><circle cx="339.92" cy="22.79" r="1.9"/><circle cx="337.89" cy="22.8" r="1.9"/><circle cx="335.85" cy="22.82" r="1.9"/><circle cx="333.82" cy="22.84" r="1.9"/><circle cx="331.79" cy="22.88" r="1.9"/><circle cx="329.75" cy="22.93" r="1.9"/><circle cx="327.72" cy="23.01" r="1.9"/><circle cx="325.68" cy="23.12" r="1.9"/><circle cx="323.65" cy="23.29" r="1.9"/><circle cx="321.62" cy="23.55" r="1.9"/><circle cx="319.58" cy="23.93" r="1.9"/><circle cx="317.55" cy="24.5" r="1.9"/><circle cx="315.51" cy="25.36" r="1.9"/><circle cx="313.48" cy="26.64" r="1.9"/><circle cx="311.45" cy="28.65" r="1.9"/><circle cx="309.41" cy="32.25" r="1.9"/><circle cx="307.38" cy="41.43" r="1.9"/><circle cx="305.35" cy="69.69" r="1.9"/><circle cx="303.31" cy="111.57" r="1.9"/><circle cx="301.28" cy="132.06" r="1.9"/><circle cx="299.24" cy="138.44" r="1.9"/><circle cx="297.21" cy="141.77" r="1.9"/><circle cx="295.18" cy="144.08" r="1.9"/><circle cx="293.14" cy="145.8" r="1.9"/><circle cx="291.11" cy="147.09" r="1.9"/><circle cx="289.08" cy="148.06" r="1.9"/><circle cx="287.04" cy="148.79" r="1.9"/><circle cx="285.01" cy="149.33" r="1.9"/><circle cx="282.97" cy="149.75" r="1.9"/><circle cx="280.94" cy="150.05" r="1.9"/><circle cx="278.91" cy="150.29" r="1.9"/><circle cx="276.87" cy="150.46" r="1.9"/><circle cx="274.84" cy="150.59" r="1.9"/><circle cx="272.8" cy="150.69" r="1.9"/><circle cx="270.77" cy="150.77" r="1.9"/><circle cx="268.74" cy="150.82" r="1.9"/><circle cx="266.7" cy="150.86" r="1.9"/><circle cx="264.67" cy="150.89" r="1.9"/><circle cx="262.64" cy="150.92" r="1.9"/><circle cx="260.6" cy="150.94" r="1.9"/><circle cx="258.57" cy="150.95" r="1.9"/><circle cx="256.53" cy="150.96" r="1.9"/><circle cx="254.5" cy="150.97" r="1.9"/><circle cx="252.47" cy="150.97" r="1.9"/><circle cx="250.43" cy="150.98" r="1.9"/><circle cx="248.4" cy="150.98" r="1.9"/><circle cx="246.37" cy="150.98" r="1.9"/><circle cx="244.33" cy="150.98" r="1.9"/><circle cx="242.3" cy="150.98" r="1.9"/><circle cx="240.26" cy="150.99" r="1.9"/><circle cx="238.23" cy="150.99" r="1.9"/><circle cx="236.2" cy="150.99" r="1.9"/><circle cx="234.16" cy="150.99" r="1.9"/><circle cx="232.13" cy="150.99" r="1.9"/><circle cx="230.1" cy="150.99" r="1.9"/><circle cx="228.06" cy="150.99" r="1.9"/><circle cx="226.03" cy="150.99" r="1.9"/><circle cx="223.99" cy="150.99" r="1.9"/><circle cx="221.96" cy="150.99" r="1.9"/><circle cx="221.96" cy="150.99" r="1.9"/><circle cx="223.99" cy="150.99" r="1.9"/><circle cx="226.03" cy="150.99" r="1.9"/><circle cx="228.06" cy="150.99" r="1.9"/><circle cx="230.1" cy="150.99" r="1.9"/><circle cx="232.13" cy="150.99" r="1.9"/><circle cx="234.16" cy="150.99" r="1.9"/><circle cx="236.2" cy="150.99" r="1.9"/><circle cx="238.23" cy="150.99" r="1.9"/><circle cx="240.26" cy="150.99" r="1.9"/><circle cx="242.3" cy="150.99" r="1.9"/><circle cx="244.33" cy="150.99" r="1.9"/><circle cx="246.37" cy="150.99" r="1.9"/><circle cx="248.4" cy="150.99" r="1.9"/><circle cx="250.43" cy="150.99" r="1.9"/><circle cx="252.47" cy="150.99" r="1.9"/><circle cx="254.5" cy="150.99" r="1.9"/><circle cx="256.53" cy="150.99" r="1.9"/><circle cx="258.57" cy="150.99" r="1.9"/><circle cx="260.6" cy="150.99" r="1.9"/><circle cx="262.64" cy="150.99" r="1.9"/><circle cx="264.67" cy="150.99" r="1.9"/><circle cx="266.7" cy="150.99" r="1.9"/><circle cx="268.74" cy="150.99" r="1.9"/><circle cx="270.77" cy="150.99" r="1.9"/><circle cx="272.8" cy="150.99" r="1.9"/><circle cx="274.84" cy="150.99" r="1.9"/><circle cx="276.87" cy="150.99" r="1.9"/><circle cx="278.91" cy="150.99" r="1.9"/><circle cx="280.94" cy="150.99" r="1.9"/><circle cx="282.97" cy="150.99" r="1.9"/><circle cx="285.01" cy="150.99" r="1.9"/><circle cx="287.04" cy="150.98" r="1.9"/><circle cx="289.08" cy="150.98" r="1.9"/><circle cx="291.11" cy="150.98" r="1.9"/><circle cx="293.14" cy="150.98" r="1.9"/><circle cx="295.18" cy="150.98" r="1.9"/><circle cx="297.21" cy="150.97" r="1.9"/><circle cx="299.24" cy="150.97" r="1.9"/><circle cx="301.28" cy="150.96" r="1.9"/><circle cx="303.31" cy="150.96" r="1.9"/><circle cx="305.35" cy="150.95" r="1.9"/><circle cx="307.38" cy="150.93" r="1.9"/><circle cx="309.41" cy="150.92" r="1.9"/><circle cx="311.45" cy="150.9" r="1.9"/><circle cx="313.48" cy="150.87" r="1.9"/><circle cx="315.51" cy="150.84" r="1.9"/><circle cx="317.55" cy="150.79" r="1.9"/><circle cx="319.58" cy="150.74" r="1.9"/><circle cx="321.62" cy="150.67" r="1.9"/><circle cx="323.65" cy="150.58" r="1.9"/><circle cx="325.68" cy="150.46" r="1.9"/><circle cx="327.72" cy="150.31" r="1.9"/><circle cx="329.75" cy="150.12" r="1.9"/><circle cx="331.79" cy="149.87" r="1.9"/><circle cx="333.82" cy="149.55" r="1.9"/><circle cx="335.85" cy="149.14" r="1.9"/><circle cx="337.89" cy="148.6" r="1.9"/><circle cx="339.92" cy="147.91" r="1.9"/><circle cx="341.95" cy="146.97" r="1.9"/><circle cx="343.99" cy="145.68" r="1.9"/><circle cx="346.02" cy="143.77" r="1.9"/><circle cx="348.06" cy="140.7" r="1.9"/><circle cx="350.09" cy="135.28" r="1.9"/><circle cx="352.12" cy="125.29" r="1.9"/><circle cx="354.16" cy="108.34" r="1.9"/><circle cx="356.19" cy="86.75" r="1.9"/><circle cx="358.22" cy="42.28" r="1.9"/><circle cx="360.26" cy="31.93" r="1.9"/><circle cx="362.29" cy="28.59" r="1.9"/><circle cx="364.33" cy="26.65" r="1.9"/><circle cx="366.36" cy="25.37" r="1.9"/><circle cx="368.39" cy="24.51" r="1.9"/><circle cx="370.43" cy="23.94" r="1.9"/><circle cx="372.46" cy="23.56" r="1.9"/><circle cx="374.5" cy="23.3" r="1.9"/><circle cx="376.53" cy="23.12" r="1.9"/><circle cx="378.56" cy="23.01" r="1.9"/><circle cx="380.6" cy="22.93" r="1.9"/><circle cx="382.63" cy="22.88" r="1.9"/><circle cx="384.66" cy="22.84" r="1.9"/><circle cx="386.7" cy="22.82" r="1.9"/><circle cx="388.73" cy="22.81" r="1.9"/><circle cx="390.77" cy="22.79" r="1.9"/><circle cx="392.8" cy="22.79" r="1.9"/><circle cx="394.83" cy="22.78" r="1.9"/><circle cx="396.87" cy="22.78" r="1.9"/><circle cx="398.9" cy="22.78" r="1.9"/><circle cx="400.93" cy="22.78" r="1.9"/><circle cx="402.97" cy="22.78" r="1.9"/><circle cx="405" cy="22.77" r="1.9"/><circle cx="407.04" cy="22.77" r="1.9"/><circle cx="409.07" cy="22.77" r="1.9"/><circle cx="411.1" cy="22.77" r="1.9"/><circle cx="413.14" cy="22.77" r="1.9"/><circle cx="415.17" cy="22.77" r="1.9"/><circle cx="417.2" cy="22.77" r="1.9"/><circle cx="419.24" cy="22.77" r="1.9"/><circle cx="421.27" cy="22.77" r="1.9"/><circle cx="423.31" cy="22.77" r="1.9"/><circle cx="425.34" cy="22.77" r="1.9"/><circle cx="307.98" cy="37.59" r="1.9"/><circle cx="306.86" cy="46.11" r="1.9"/><circle cx="304.47" cy="88.06" r="1.9"/><circle cx="304.23" cy="93.31" r="1.9"/><circle cx="303.98" cy="98.55" r="1.9"/><circle cx="302.68" cy="120.84" r="1.9"/><circle cx="301.16" cy="132.63" r="1.9"/><circle cx="357.02" cy="63.15" r="1.9"/><circle cx="356.87" cy="67.09" r="1.9"/><circle cx="356.73" cy="71.02" r="1.9"/><circle cx="355.09" cy="98.55" r="1.9"/><circle cx="354.85" cy="101.17" r="1.9"/></g>
<path d="M425.34 20.87 L423.31 20.87 L421.27 20.87 L419.24 20.87 L417.2 20.87 L415.17 20.87 L413.14 20.87 L411.1 20.87 L409.07 20.87 L407.04 20.87 L405 20.87 L402.97 20.87 L400.93 20.87 L398.9 20.87 L396.87 20.87 L394.83 20.87 L392.8 20.87 L390.77 20.87 L388.73 20.87 L386.7 20.87 L384.66 20.87 L382.63 20.87 L380.6 20.87 L378.56 20.87 L376.53 20.87 L374.5 20.87 L372.46 20.87 L370.43 20.87 L368.39 20.87 L366.36 20.87 L364.33 20.87 L362.29 20.87 L360.26 20.87 L358.22 20.87 L356.19 20.88 L354.16 20.88 L352.12 20.88 L350.09 20.88 L348.06 20.88 L346.02 20.89 L343.99 20.89 L341.95 20.9 L339.92 20.91 L337.89 20.92 L335.85 20.94 L333.82 20.96 L331.79 20.99 L329.75 21.03 L327.72 21.09 L325.68 21.17 L323.65 21.27 L321.62 21.42 L319.58 21.61 L317.55 21.88 L315.51 22.24 L313.48 22.73 L311.45 23.4 L309.41 24.31 L307.38 25.55 L305.35 27.25 L303.31 29.61 L301.28 33.11 L299.24 39.45 L297.21 54.98 L295.18 86.75 L293.14 131.93 L291.11 145.47 L289.08 149.1 L287.04 150.7 L285.01 151.59 L282.97 152.13 L280.94 152.46 L278.91 152.65 L276.87 152.77 L274.84 152.84 L272.8 152.89 L270.77 152.91 L268.74 152.93 L266.7 152.94 L264.67 152.95 L262.64 152.95 L260.6 152.95 L258.57 152.95 L256.53 152.95 L254.5 152.95 L252.47 152.96 L250.43 152.96 L248.4 152.96 L246.37 152.96 L244.33 152.96 L242.3 152.96 L240.26 152.96 L238.23 152.96 L236.2 152.96 L234.16 152.96 L232.13 152.96 L230.1 152.96 L228.06 152.96 L226.03 152.96 L223.99 152.96 L221.96 152.96 L221.96 152.96 L223.99 152.96 L226.03 152.96 L228.06 152.96 L230.1 152.96 L232.13 152.96 L234.16 152.96 L236.2 152.96 L238.23 152.96 L240.26 152.96 L242.3 152.96 L244.33 152.96 L246.37 152.96 L248.4 152.96 L250.43 152.96 L252.47 152.96 L254.5 152.96 L256.53 152.96 L258.57 152.96 L260.6 152.96 L262.64 152.96 L264.67 152.96 L266.7 152.95 L268.74 152.95 L270.77 152.95 L272.8 152.95 L274.84 152.95 L276.87 152.95 L278.91 152.95 L280.94 152.95 L282.97 152.95 L285.01 152.95 L287.04 152.94 L289.08 152.94 L291.11 152.93 L293.14 152.93 L295.18 152.92 L297.21 152.9 L299.24 152.88 L301.28 152.86 L303.31 152.83 L305.35 152.78 L307.38 152.71 L309.41 152.63 L311.45 152.51 L313.48 152.35 L315.51 152.13 L317.55 151.83 L319.58 151.43 L321.62 150.87 L323.65 150.13 L325.68 149.1 L327.72 147.71 L329.75 145.81 L331.79 143.12 L333.82 138.92 L335.85 130.45 L337.89 108.93 L339.92 72.54 L341.95 41.95 L343.99 30.57 L346.02 26.35 L348.06 24.25 L350.09 23.02 L352.12 22.24 L354.16 21.75 L356.19 21.44 L358.22 21.23 L360.26 21.1 L362.29 21.02 L364.33 20.97 L366.36 20.93 L368.39 20.91 L370.43 20.9 L372.46 20.89 L374.5 20.88 L376.53 20.88 L378.56 20.88 L380.6 20.87 L382.63 20.87 L384.66 20.87 L386.7 20.87 L388.73 20.87 L390.77 20.87 L392.8 20.87 L394.83 20.87 L396.87 20.87 L398.9 20.87 L400.93 20.87 L402.97 20.87 L405 20.87 L407.04 20.87 L409.07 20.87 L411.1 20.87 L413.14 20.87 L415.17 20.87 L417.2 20.87 L419.24 20.87 L421.27 20.87 L423.31 20.87 L425.34 20.87" fill="none" stroke="#6aaedf" stroke-width="1"/>
<g fill="url(#wlb)"><circle cx="425.34" cy="20.87" r="2.0"/><circle cx="423.31" cy="20.87" r="2.0"/><circle cx="421.27" cy="20.87" r="2.0"/><circle cx="419.24" cy="20.87" r="2.0"/><circle cx="417.2" cy="20.87" r="2.0"/><circle cx="415.17" cy="20.87" r="2.0"/><circle cx="413.14" cy="20.87" r="2.0"/><circle cx="411.1" cy="20.87" r="2.0"/><circle cx="409.07" cy="20.87" r="2.0"/><circle cx="407.04" cy="20.87" r="2.0"/><circle cx="405" cy="20.87" r="2.0"/><circle cx="402.97" cy="20.87" r="2.0"/><circle cx="400.93" cy="20.87" r="2.0"/><circle cx="398.9" cy="20.87" r="2.0"/><circle cx="396.87" cy="20.87" r="2.0"/><circle cx="394.83" cy="20.87" r="2.0"/><circle cx="392.8" cy="20.87" r="2.0"/><circle cx="390.77" cy="20.87" r="2.0"/><circle cx="388.73" cy="20.87" r="2.0"/><circle cx="386.7" cy="20.87" r="2.0"/><circle cx="384.66" cy="20.87" r="2.0"/><circle cx="382.63" cy="20.87" r="2.0"/><circle cx="380.6" cy="20.87" r="2.0"/><circle cx="378.56" cy="20.87" r="2.0"/><circle cx="376.53" cy="20.87" r="2.0"/><circle cx="374.5" cy="20.87" r="2.0"/><circle cx="372.46" cy="20.87" r="2.0"/><circle cx="370.43" cy="20.87" r="2.0"/><circle cx="368.39" cy="20.87" r="2.0"/><circle cx="366.36" cy="20.87" r="2.0"/><circle cx="364.33" cy="20.87" r="2.0"/><circle cx="362.29" cy="20.87" r="2.0"/><circle cx="360.26" cy="20.87" r="2.0"/><circle cx="358.22" cy="20.87" r="2.0"/><circle cx="356.19" cy="20.88" r="2.0"/><circle cx="354.16" cy="20.88" r="2.0"/><circle cx="352.12" cy="20.88" r="2.0"/><circle cx="350.09" cy="20.88" r="2.0"/><circle cx="348.06" cy="20.88" r="2.0"/><circle cx="346.02" cy="20.89" r="2.0"/><circle cx="343.99" cy="20.89" r="2.0"/><circle cx="341.95" cy="20.9" r="2.0"/><circle cx="339.92" cy="20.91" r="2.0"/><circle cx="337.89" cy="20.92" r="2.0"/><circle cx="335.85" cy="20.94" r="2.0"/><circle cx="333.82" cy="20.96" r="2.0"/><circle cx="331.79" cy="20.99" r="2.0"/><circle cx="329.75" cy="21.03" r="2.0"/><circle cx="327.72" cy="21.09" r="2.0"/><circle cx="325.68" cy="21.17" r="2.0"/><circle cx="323.65" cy="21.27" r="2.0"/><circle cx="321.62" cy="21.42" r="2.0"/><circle cx="319.58" cy="21.61" r="2.0"/><circle cx="317.55" cy="21.88" r="2.0"/><circle cx="315.51" cy="22.24" r="2.0"/><circle cx="313.48" cy="22.73" r="2.0"/><circle cx="311.45" cy="23.4" r="2.0"/><circle cx="309.41" cy="24.31" r="2.0"/><circle cx="307.38" cy="25.55" r="2.0"/><circle cx="305.35" cy="27.25" r="2.0"/><circle cx="303.31" cy="29.61" r="2.0"/><circle cx="301.28" cy="33.11" r="2.0"/><circle cx="299.24" cy="39.45" r="2.0"/><circle cx="297.21" cy="54.98" r="2.0"/><circle cx="295.18" cy="86.75" r="2.0"/><circle cx="293.14" cy="131.93" r="2.0"/><circle cx="291.11" cy="145.47" r="2.0"/><circle cx="289.08" cy="149.1" r="2.0"/><circle cx="287.04" cy="150.7" r="2.0"/><circle cx="285.01" cy="151.59" r="2.0"/><circle cx="282.97" cy="152.13" r="2.0"/><circle cx="280.94" cy="152.46" r="2.0"/><circle cx="278.91" cy="152.65" r="2.0"/><circle cx="276.87" cy="152.77" r="2.0"/><circle cx="274.84" cy="152.84" r="2.0"/><circle cx="272.8" cy="152.89" r="2.0"/><circle cx="270.77" cy="152.91" r="2.0"/><circle cx="268.74" cy="152.93" r="2.0"/><circle cx="266.7" cy="152.94" r="2.0"/><circle cx="264.67" cy="152.95" r="2.0"/><circle cx="262.64" cy="152.95" r="2.0"/><circle cx="260.6" cy="152.95" r="2.0"/><circle cx="258.57" cy="152.95" r="2.0"/><circle cx="256.53" cy="152.95" r="2.0"/><circle cx="254.5" cy="152.95" r="2.0"/><circle cx="252.47" cy="152.96" r="2.0"/><circle cx="250.43" cy="152.96" r="2.0"/><circle cx="248.4" cy="152.96" r="2.0"/><circle cx="246.37" cy="152.96" r="2.0"/><circle cx="244.33" cy="152.96" r="2.0"/><circle cx="242.3" cy="152.96" r="2.0"/><circle cx="240.26" cy="152.96" r="2.0"/><circle cx="238.23" cy="152.96" r="2.0"/><circle cx="236.2" cy="152.96" r="2.0"/><circle cx="234.16" cy="152.96" r="2.0"/><circle cx="232.13" cy="152.96" r="2.0"/><circle cx="230.1" cy="152.96" r="2.0"/><circle cx="228.06" cy="152.96" r="2.0"/><circle cx="226.03" cy="152.96" r="2.0"/><circle cx="223.99" cy="152.96" r="2.0"/><circle cx="221.96" cy="152.96" r="2.0"/><circle cx="221.96" cy="152.96" r="2.0"/><circle cx="223.99" cy="152.96" r="2.0"/><circle cx="226.03" cy="152.96" r="2.0"/><circle cx="228.06" cy="152.96" r="2.0"/><circle cx="230.1" cy="152.96" r="2.0"/><circle cx="232.13" cy="152.96" r="2.0"/><circle cx="234.16" cy="152.96" r="2.0"/><circle cx="236.2" cy="152.96" r="2.0"/><circle cx="238.23" cy="152.96" r="2.0"/><circle cx="240.26" cy="152.96" r="2.0"/><circle cx="242.3" cy="152.96" r="2.0"/><circle cx="244.33" cy="152.96" r="2.0"/><circle cx="246.37" cy="152.96" r="2.0"/><circle cx="248.4" cy="152.96" r="2.0"/><circle cx="250.43" cy="152.96" r="2.0"/><circle cx="252.47" cy="152.96" r="2.0"/><circle cx="254.5" cy="152.96" r="2.0"/><circle cx="256.53" cy="152.96" r="2.0"/><circle cx="258.57" cy="152.96" r="2.0"/><circle cx="260.6" cy="152.96" r="2.0"/><circle cx="262.64" cy="152.96" r="2.0"/><circle cx="264.67" cy="152.96" r="2.0"/><circle cx="266.7" cy="152.95" r="2.0"/><circle cx="268.74" cy="152.95" r="2.0"/><circle cx="270.77" cy="152.95" r="2.0"/><circle cx="272.8" cy="152.95" r="2.0"/><circle cx="274.84" cy="152.95" r="2.0"/><circle cx="276.87" cy="152.95" r="2.0"/><circle cx="278.91" cy="152.95" r="2.0"/><circle cx="280.94" cy="152.95" r="2.0"/><circle cx="282.97" cy="152.95" r="2.0"/><circle cx="285.01" cy="152.95" r="2.0"/><circle cx="287.04" cy="152.94" r="2.0"/><circle cx="289.08" cy="152.94" r="2.0"/><circle cx="291.11" cy="152.93" r="2.0"/><circle cx="293.14" cy="152.93" r="2.0"/><circle cx="295.18" cy="152.92" r="2.0"/><circle cx="297.21" cy="152.9" r="2.0"/><circle cx="299.24" cy="152.88" r="2.0"/><circle cx="301.28" cy="152.86" r="2.0"/><circle cx="303.31" cy="152.83" r="2.0"/><circle cx="305.35" cy="152.78" r="2.0"/><circle cx="307.38" cy="152.71" r="2.0"/><circle cx="309.41" cy="152.63" r="2.0"/><circle cx="311.45" cy="152.51" r="2.0"/><circle cx="313.48" cy="152.35" r="2.0"/><circle cx="315.51" cy="152.13" r="2.0"/><circle cx="317.55" cy="151.83" r="2.0"/><circle cx="319.58" cy="151.43" r="2.0"/><circle cx="321.62" cy="150.87" r="2.0"/><circle cx="323.65" cy="150.13" r="2.0"/><circle cx="325.68" cy="149.1" r="2.0"/><circle cx="327.72" cy="147.71" r="2.0"/><circle cx="329.75" cy="145.81" r="2.0"/><circle cx="331.79" cy="143.12" r="2.0"/><circle cx="333.82" cy="138.92" r="2.0"/><circle cx="335.85" cy="130.45" r="2.0"/><circle cx="337.89" cy="108.93" r="2.0"/><circle cx="339.92" cy="72.54" r="2.0"/><circle cx="341.95" cy="41.95" r="2.0"/><circle cx="343.99" cy="30.57" r="2.0"/><circle cx="346.02" cy="26.35" r="2.0"/><circle cx="348.06" cy="24.25" r="2.0"/><circle cx="350.09" cy="23.02" r="2.0"/><circle cx="352.12" cy="22.24" r="2.0"/><circle cx="354.16" cy="21.75" r="2.0"/><circle cx="356.19" cy="21.44" r="2.0"/><circle cx="358.22" cy="21.23" r="2.0"/><circle cx="360.26" cy="21.1" r="2.0"/><circle cx="362.29" cy="21.02" r="2.0"/><circle cx="364.33" cy="20.97" r="2.0"/><circle cx="366.36" cy="20.93" r="2.0"/><circle cx="368.39" cy="20.91" r="2.0"/><circle cx="370.43" cy="20.9" r="2.0"/><circle cx="372.46" cy="20.89" r="2.0"/><circle cx="374.5" cy="20.88" r="2.0"/><circle cx="376.53" cy="20.88" r="2.0"/><circle cx="378.56" cy="20.88" r="2.0"/><circle cx="380.6" cy="20.87" r="2.0"/><circle cx="382.63" cy="20.87" r="2.0"/><circle cx="384.66" cy="20.87" r="2.0"/><circle cx="386.7" cy="20.87" r="2.0"/><circle cx="388.73" cy="20.87" r="2.0"/><circle cx="390.77" cy="20.87" r="2.0"/><circle cx="392.8" cy="20.87" r="2.0"/><circle cx="394.83" cy="20.87" r="2.0"/><circle cx="396.87" cy="20.87" r="2.0"/><circle cx="398.9" cy="20.87" r="2.0"/><circle cx="400.93" cy="20.87" r="2.0"/><circle cx="402.97" cy="20.87" r="2.0"/><circle cx="405" cy="20.87" r="2.0"/><circle cx="407.04" cy="20.87" r="2.0"/><circle cx="409.07" cy="20.87" r="2.0"/><circle cx="411.1" cy="20.87" r="2.0"/><circle cx="413.14" cy="20.87" r="2.0"/><circle cx="415.17" cy="20.87" r="2.0"/><circle cx="417.2" cy="20.87" r="2.0"/><circle cx="419.24" cy="20.87" r="2.0"/><circle cx="421.27" cy="20.87" r="2.0"/><circle cx="423.31" cy="20.87" r="2.0"/><circle cx="425.34" cy="20.87" r="2.0"/><circle cx="299.22" cy="39.55" r="2.0"/><circle cx="297.96" cy="47.42" r="2.0"/><circle cx="295.1" cy="88.72" r="2.0"/><circle cx="294.89" cy="94.62" r="2.0"/><circle cx="294.68" cy="100.52" r="2.0"/><circle cx="292.98" cy="133.95" r="2.0"/><circle cx="343.85" cy="31.03" r="2.0"/><circle cx="342.5" cy="37.59" r="2.0"/><circle cx="340.56" cy="60.53" r="2.0"/><circle cx="340.3" cy="65.12" r="2.0"/><circle cx="337.37" cy="116.25" r="2.0"/><circle cx="337.1" cy="119.53" r="2.0"/></g>
<path d="M226.3 18.4H249.1" stroke="#3a66b2" stroke-width="1"/>
<circle cx="237.8" cy="18.4" r="2.0" fill="url(#sdb)"/>
<path d="M226.3 31.4H249.1" stroke="#ee5b44" stroke-width="1"/>
<circle cx="237.8" cy="31.4" r="2.0" fill="url(#srd)"/>
<path d="M226.3 45.3H249.1" stroke="#6aaedf" stroke-width="1"/>
<circle cx="237.8" cy="45.3" r="2.0" fill="url(#slb)"/>
<text x="257.6" y="22" font-size="10" text-anchor="start" font-weight="bold" font-style="normal" fill="#111" >NiFe only</text>
<text x="251.6" y="35.2" font-size="10" text-anchor="start" font-weight="bold" font-style="normal" fill="#111" >+ 1T FC</text>
<text x="251.8" y="49.1" font-size="10" text-anchor="start" font-weight="bold" font-style="normal" fill="#888" style="stroke:#888">–</text>
<text x="261.4" y="49.1" font-size="10" text-anchor="start" font-weight="bold" font-style="normal" fill="#111" >2T FC</text>
<text transform="translate(194.9 103.2) rotate(-90)" font-size="13.5" font-weight="bold" font-style="italic" fill="#111">M/M<tspan font-size="9" dy="2.6">s</tspan></text>
<text x="303.4" y="195.9" font-size="13.8" font-weight="bold" fill="#111"><tspan font-style="italic">H</tspan> (Oe)</text>
<rect x="471.5" y="3.6" width="204.2" height="163.9" fill="none" stroke="#1c1c1c" stroke-width="1.2"/>
<path d="M490.06 167.5v-3.0M490.06 3.6v3.0M527.19 167.5v-3.0M527.19 3.6v3.0M564.32 167.5v-3.0M564.32 3.6v3.0M601.45 167.5v-3.0M601.45 3.6v3.0M638.57 167.5v-3.0M638.57 3.6v3.0" stroke="#1c1c1c" stroke-width="1.2" fill="none"/>
<text transform="translate(490.06 180) scale(1 1.08)" font-size="10.6" text-anchor="middle" font-weight="bold" font-style="normal" fill="#111" >50</text>
<text transform="translate(527.19 180) scale(1 1.08)" font-size="10.6" text-anchor="middle" font-weight="bold" font-style="normal" fill="#111" >100</text>
<text transform="translate(564.32 180) scale(1 1.08)" font-size="10.6" text-anchor="middle" font-weight="bold" font-style="normal" fill="#111" >150</text>
<text transform="translate(601.45 180) scale(1 1.08)" font-size="10.6" text-anchor="middle" font-weight="bold" font-style="normal" fill="#111" >200</text>
<text transform="translate(638.57 180) scale(1 1.08)" font-size="10.6" text-anchor="middle" font-weight="bold" font-style="normal" fill="#111" >250</text>
<text transform="translate(675.7 180) scale(1 1.08)" font-size="10.6" text-anchor="middle" font-weight="bold" font-style="normal" fill="#111" >300</text>
<text x="444.6" y="15.8" font-size="14.2" text-anchor="start" font-weight="bold" font-style="normal" fill="#111" >c</text>
<text transform="translate(465.2 140) rotate(-90)" font-size="14" font-weight="bold" fill="#111"><tspan font-style="italic">dV/dH</tspan> (arb.units)</text>
<text x="553.4" y="199.0" font-size="13.8" font-weight="bold" fill="#111"><tspan font-style="italic">H</tspan> (Oe)</text>
<path d="M490.06 115.3 L490.81 117.09 L491.55 115.26 L492.29 115 L493.03 113.47 L493.78 115.13 L494.52 118.26 L495.26 116.56 L496 117.97 L496.75 116.03 L497.49 116.32 L498.23 115.77 L498.97 111.27 L499.72 117.27 L500.46 116.38 L501.2 116.31 L501.94 111 L502.69 110.82 L503.43 112.82 L504.17 113.78 L504.91 115.59 L505.66 114.7 L506.4 116.01 L507.14 113.17 L507.88 115.41 L508.63 115.57 L509.37 113 L510.11 118.66 L510.85 115.84 L511.6 117.33 L512.34 112.93 L513.08 112.6 L513.83 113.51 L514.57 114.04 L515.31 115.77 L516.05 114.81 L516.8 113.09 L517.54 111.83 L518.28 112.84 L519.02 116.98 L519.77 112.07 L520.51 114.56 L521.25 114.97 L521.99 110.33 L522.74 113.99 L523.48 116.98 L524.22 108.98 L524.96 113.01 L525.71 113.5 L526.45 111.77 L527.19 114.9 L527.93 113.53 L528.68 110.15 L529.42 115.63 L530.16 115.23 L530.9 115.88 L531.65 117.06 L532.39 114.46 L533.13 113.86 L533.87 110.44 L534.62 115.02 L535.36 112.06 L536.1 112.42 L536.84 110.46 L537.59 111.17 L538.33 112.23 L539.07 116.61 L539.81 108.66 L540.56 110.07 L541.3 114.19 L542.04 117.15 L542.78 115.15 L543.53 109.31 L544.27 107.94 L545.01 114.98 L545.75 112.53 L546.5 111.79 L547.24 117.04 L547.98 117.57 L548.72 115.55 L549.47 116.03 L550.21 116.77 L550.95 119.86 L551.69 117.83 L552.44 117.92 L553.18 118.33 L553.92 113.6 L554.67 120.8 L555.41 120.39 L556.15 119.74 L556.89 114.11 L557.64 117.72 L558.38 121.67 L559.12 115.73 L559.86 120.11 L560.61 123.51 L561.35 118.48 L562.09 126.11 L562.83 124.26 L563.58 123.35 L564.32 125.37 L565.06 127.15 L565.8 126.99 L566.55 130.65 L567.29 127.6 L568.03 129.55 L568.77 134.43 L569.52 133.49 L570.26 133.07 L571 139.3 L571.74 142.56 L572.49 140.42 L573.23 142.1 L573.97 147.61 L574.71 145.47 L575.46 138.27 L576.2 134.52 L576.94 123.9 L577.68 121.57 L578.43 108.69 L579.17 96.81 L579.91 83.23 L580.65 68.88 L581.4 56.55 L582.14 44.08 L582.88 33.35 L583.62 26.24 L584.37 24.98 L585.11 30.68 L585.85 42.11 L586.59 54.64 L587.34 64.03 L588.08 72.65 L588.82 79.74 L589.56 87.62 L590.31 90.59 L591.05 93.25 L591.79 96.16 L592.53 99.17 L593.28 103.2 L594.02 102.95 L594.76 106.36 L595.51 111.22 L596.25 103.07 L596.99 107.35 L597.73 111.33 L598.48 112.43 L599.22 112.66 L599.96 111.55 L600.7 114.51 L601.45 113.93 L602.19 112.24 L602.93 119.5 L603.67 114.7 L604.42 112.67 L605.16 113.92 L605.9 113.77 L606.64 114.28 L607.39 108 L608.13 113.47 L608.87 117.14 L609.61 111.98 L610.36 114.67 L611.1 117.17 L611.84 116.97 L612.58 118.52 L613.33 110.87 L614.07 114.12 L614.81 114.16 L615.55 116.48 L616.3 117.61 L617.04 108.56 L617.78 117.62 L618.52 111.54 L619.27 116.67 L620.01 111.46 L620.75 115.49 L621.49 117.95 L622.24 114.74 L622.98 115.57 L623.72 117.04 L624.46 115.48 L625.21 114.95 L625.95 118.85 L626.69 117.7 L627.43 114.49 L628.18 121.8 L628.92 112.47 L629.66 117.43 L630.4 114.61 L631.15 115.57 L631.89 116.96 L632.63 115.81 L633.37 116.82 L634.12 111.63 L634.86 111.68 L635.6 116.78 L636.35 113 L637.09 112.86 L637.83 111.8 L638.57 118.38 L639.32 117.13 L640.06 118.88 L640.8 113.1 L641.54 115.36 L642.29 112.63 L643.03 117.21 L643.77 119.19 L644.51 113.25 L645.26 119.13 L646 117.76 L646.74 114.97 L647.48 110.67 L648.23 118.78 L648.97 115.18 L649.71 113.97 L650.45 116.38 L651.2 116.41 L651.94 119.03 L652.68 112.99 L653.42 118.17 L654.17 119.02 L654.91 118.94 L655.65 115.03 L656.39 113.68 L657.14 117.92 L657.88 115.76 L658.62 118.79 L659.36 124.92 L660.11 123.87 L660.85 122" fill="none" stroke="#3a4d7e" stroke-width="1.05" stroke-linejoin="round"/>
<path d="M490.06 114.99 L490.81 111.42 L491.55 117.78 L492.29 116.52 L493.03 114.24 L493.78 115.63 L494.52 117.59 L495.26 115.73 L496 118.67 L496.75 115.28 L497.49 117.87 L498.23 118.9 L498.97 119.13 L499.72 113.59 L500.46 117.26 L501.2 110.6 L501.94 112.44 L502.69 110.28 L503.43 117.5 L504.17 111.93 L504.91 114.81 L505.66 114.32 L506.4 114.67 L507.14 113.27 L507.88 115.2 L508.63 118.9 L509.37 114.66 L510.11 115.78 L510.85 116.87 L511.6 113.95 L512.34 111.36 L513.08 113 L513.83 116.87 L514.57 110.3 L515.31 112.77 L516.05 116.58 L516.8 116.03 L517.54 114.1 L518.28 115.97 L519.02 114.4 L519.77 111.13 L520.51 110.17 L521.25 112.35 L521.99 116.07 L522.74 112.46 L523.48 111.62 L524.22 111.9 L524.96 110.05 L525.71 113.41 L526.45 110.83 L527.19 114.51 L527.93 107.95 L528.68 114.38 L529.42 112.04 L530.16 108.9 L530.9 115.28 L531.65 112.87 L532.39 108.17 L533.13 111.4 L533.87 114.19 L534.62 112.37 L535.36 115.32 L536.1 115.23 L536.84 115.02 L537.59 114.2 L538.33 116.62 L539.07 115.01 L539.81 114.53 L540.56 108.48 L541.3 115.68 L542.04 116.73 L542.78 112.96 L543.53 112.64 L544.27 118.54 L545.01 109.8 L545.75 115.31 L546.5 120.19 L547.24 112.36 L547.98 116.47 L548.72 119.6 L549.47 115.05 L550.21 116.98 L550.95 118.1 L551.69 114.09 L552.44 116.39 L553.18 117.66 L553.92 119.3 L554.67 117.62 L555.41 117.62 L556.15 116.04 L556.89 118.02 L557.64 121.42 L558.38 119.95 L559.12 118.11 L559.86 118.62 L560.61 127.56 L561.35 124.47 L562.09 123.9 L562.83 116.86 L563.58 125.35 L564.32 125.9 L565.06 129.8 L565.8 127.92 L566.55 127.98 L567.29 130.72 L568.03 126.22 L568.77 134.8 L569.52 134.63 L570.26 133.93 L571 140.68 L571.74 143.91 L572.49 138.73 L573.23 144 L573.97 149.74 L574.71 149.14 L575.46 141.7 L576.2 132.69 L576.94 132.13 L577.68 123.55 L578.43 111.68 L579.17 99.85 L579.91 88.47 L580.65 71.5 L581.4 59.27 L582.14 45.87 L582.88 32.98 L583.62 25.2 L584.37 20.13 L585.11 25.05 L585.85 35.83 L586.59 48.97 L587.34 59.26 L588.08 68.11 L588.82 76.36 L589.56 83.03 L590.31 88.83 L591.05 92.44 L591.79 94.81 L592.53 99.31 L593.28 100.42 L594.02 100.95 L594.76 103.36 L595.51 106.5 L596.25 107.85 L596.99 109.73 L597.73 110.35 L598.48 111.56 L599.22 111.49 L599.96 109.35 L600.7 113.75 L601.45 115.6 L602.19 114.38 L602.93 113.1 L603.67 114.8 L604.42 111.57 L605.16 109.51 L605.9 114.35 L606.64 112.11 L607.39 116.24 L608.13 111.96 L608.87 108.34 L609.61 112.23 L610.36 118.57 L611.1 113.91 L611.84 111.58 L612.58 113.07 L613.33 116.17 L614.07 116.13 L614.81 115.37 L615.55 118.52 L616.3 116.66 L617.04 114.92 L617.78 116.41 L618.52 118.95 L619.27 117.32 L620.01 117.47 L620.75 112.43 L621.49 114.69 L622.24 116.82 L622.98 114.37 L623.72 117.66 L624.46 116.55 L625.21 117.31 L625.95 114.63 L626.69 121.27 L627.43 118.15 L628.18 114.67 L628.92 115.41 L629.66 121.44 L630.4 114.39 L631.15 117.33 L631.89 117.59 L632.63 115.26 L633.37 112.46 L634.12 115.72 L634.86 116.14 L635.6 117.99 L636.35 117.17 L637.09 115.36 L637.83 117.35 L638.57 116.61 L639.32 115.81 L640.06 115.46 L640.8 114.75 L641.54 116.99 L642.29 112.81 L643.03 113.84 L643.77 115.37 L644.51 111.85 L645.26 114.32 L646 110.55 L646.74 113.74 L647.48 116.75 L648.23 116.75 L648.97 115.26 L649.71 114.84 L650.45 112 L651.2 119.8 L651.94 116.65 L652.68 118.05 L653.42 113.31 L654.17 114.99 L654.91 111.07 L655.65 117.32 L656.39 117.7 L657.14 110.91 L657.88 115.34 L658.62 116.99 L659.36 111.25 L660.11 111.11 L660.85 112.94" fill="none" stroke="#5d8fcf" stroke-width="1.05" stroke-linejoin="round"/>
<path d="M490.06 114.44 L490.81 112.53 L491.55 115.92 L492.29 116.39 L493.03 117.26 L493.78 117.37 L494.52 119.24 L495.26 118.38 L496 112.38 L496.75 114.26 L497.49 112.87 L498.23 112.78 L498.97 115.12 L499.72 115.27 L500.46 116.38 L501.2 111.34 L501.94 112.13 L502.69 114.99 L503.43 114.52 L504.17 114.2 L504.91 114.74 L505.66 113.02 L506.4 116.48 L507.14 115.6 L507.88 114.5 L508.63 113.05 L509.37 114.2 L510.11 108.04 L510.85 112.18 L511.6 114.58 L512.34 110.84 L513.08 114.89 L513.83 114.72 L514.57 111.02 L515.31 113.68 L516.05 113.49 L516.8 115.3 L517.54 115.63 L518.28 114.03 L519.02 112.04 L519.77 113.7 L520.51 113.85 L521.25 115.73 L521.99 114.64 L522.74 112.17 L523.48 110.62 L524.22 112.94 L524.96 112.03 L525.71 111.11 L526.45 113.47 L527.19 112.55 L527.93 113.95 L528.68 114.93 L529.42 112.67 L530.16 119.22 L530.9 112.85 L531.65 116.26 L532.39 113.89 L533.13 116.27 L533.87 107.87 L534.62 111.75 L535.36 114.13 L536.1 114.97 L536.84 119.11 L537.59 114.27 L538.33 116.57 L539.07 115.34 L539.81 115.79 L540.56 114.77 L541.3 113.21 L542.04 114.85 L542.78 111.11 L543.53 116.62 L544.27 111.45 L545.01 114.61 L545.75 119.25 L546.5 113.79 L547.24 114.57 L547.98 117.53 L548.72 115.03 L549.47 113.29 L550.21 116.12 L550.95 117.19 L551.69 117.81 L552.44 114.6 L553.18 121.02 L553.92 121.2 L554.67 117.63 L555.41 118.63 L556.15 117.37 L556.89 122.21 L557.64 117.54 L558.38 121.29 L559.12 118.97 L559.86 118.95 L560.61 122.86 L561.35 124.92 L562.09 122.33 L562.83 121.43 L563.58 125.78 L564.32 124.58 L565.06 126.45 L565.8 130.48 L566.55 130.79 L567.29 128.19 L568.03 136.33 L568.77 132.38 L569.52 135.81 L570.26 134.09 L571 137.47 L571.74 135.66 L572.49 146.17 L573.23 147.95 L573.97 146.44 L574.71 148.12 L575.46 144.32 L576.2 141.9 L576.94 131.19 L577.68 125.42 L578.43 117.58 L579.17 108.37 L579.91 93.54 L580.65 79.31 L581.4 63.58 L582.14 53.24 L582.88 41.73 L583.62 31.79 L584.37 25.17 L585.11 24.73 L585.85 32.84 L586.59 44.1 L587.34 57.7 L588.08 66.33 L588.82 73.38 L589.56 79.96 L590.31 85.49 L591.05 89.63 L591.79 93.94 L592.53 97.78 L593.28 100.62 L594.02 103.04 L594.76 108.36 L595.51 104.41 L596.25 107.62 L596.99 115.31 L597.73 105.78 L598.48 109.71 L599.22 112.03 L599.96 112.56 L600.7 113.63 L601.45 112.45 L602.19 114.18 L602.93 113.66 L603.67 115.56 L604.42 109.34 L605.16 111.91 L605.9 114.19 L606.64 111.86 L607.39 111.95 L608.13 116.07 L608.87 113.09 L609.61 116.25 L610.36 116.58 L611.1 115.58 L611.84 116.11 L612.58 114.67 L613.33 111.56 L614.07 114.89 L614.81 116.06 L615.55 113.71 L616.3 114.75 L617.04 116.79 L617.78 112.89 L618.52 116.54 L619.27 119.49 L620.01 113.7 L620.75 115.4 L621.49 114.71 L622.24 118.78 L622.98 115.86 L623.72 117.27 L624.46 113.48 L625.21 115.11 L625.95 115.14 L626.69 110.91 L627.43 118.65 L628.18 117.36 L628.92 111.02 L629.66 117.01 L630.4 114.92 L631.15 116.32 L631.89 116.14 L632.63 111.67 L633.37 114.77 L634.12 118.87 L634.86 113.91 L635.6 112.85 L636.35 112.05 L637.09 112.39 L637.83 116.13 L638.57 119.39 L639.32 116.37 L640.06 115.93 L640.8 120.71 L641.54 114.11 L642.29 113.74 L643.03 116.64 L643.77 116.69 L644.51 112.94 L645.26 112.58 L646 116.09 L646.74 115.99 L647.48 112.26 L648.23 114.92 L648.97 114.11 L649.71 116.52 L650.45 115.14 L651.2 115.22 L651.94 114.58 L652.68 117.96 L653.42 118.78 L654.17 114.57 L654.91 117.48 L655.65 113.64 L656.39 115.64 L657.14 117.27 L657.88 119.11 L658.62 114.57 L659.36 115.32 L660.11 115.97 L660.85 111.91" fill="none" stroke="#86bfe6" stroke-width="1.05" stroke-linejoin="round"/>
<path d="M490.06 115.83 L490.81 114.12 L491.55 116.58 L492.29 112.93 L493.03 110.85 L493.78 115.63 L494.52 116.12 L495.26 114.12 L496 117.52 L496.75 114.69 L497.49 113.84 L498.23 116.39 L498.97 111.43 L499.72 113.52 L500.46 115.05 L501.2 117.09 L501.94 114.61 L502.69 115.69 L503.43 113.34 L504.17 115.59 L504.91 118.81 L505.66 113.13 L506.4 120.41 L507.14 113.15 L507.88 114.69 L508.63 115.03 L509.37 117.03 L510.11 111.57 L510.85 109.46 L511.6 115.91 L512.34 116.33 L513.08 115.88 L513.83 120.66 L514.57 114.8 L515.31 114.88 L516.05 116.46 L516.8 115.08 L517.54 118.15 L518.28 111.15 L519.02 113.19 L519.77 105.79 L520.51 115.97 L521.25 113.09 L521.99 116.17 L522.74 119.1 L523.48 113.89 L524.22 113.26 L524.96 112.65 L525.71 111.81 L526.45 112.29 L527.19 115.31 L527.93 113.85 L528.68 113.9 L529.42 113.31 L530.16 115.91 L530.9 114.89 L531.65 113.35 L532.39 115.27 L533.13 113.3 L533.87 110.88 L534.62 117.12 L535.36 114.73 L536.1 111.31 L536.84 116.19 L537.59 114.43 L538.33 109.85 L539.07 117.49 L539.81 114.45 L540.56 115.83 L541.3 114.22 L542.04 113.45 L542.78 110.18 L543.53 116.32 L544.27 114.18 L545.01 113.56 L545.75 115.25 L546.5 114.77 L547.24 116.41 L547.98 114.11 L548.72 115.15 L549.47 110.36 L550.21 114.74 L550.95 117.67 L551.69 119.6 L552.44 115.88 L553.18 116.84 L553.92 121.32 L554.67 117.13 L555.41 120.08 L556.15 122.77 L556.89 119.25 L557.64 122.53 L558.38 118.32 L559.12 121 L559.86 120.82 L560.61 121.83 L561.35 124.87 L562.09 128.55 L562.83 121.95 L563.58 122.97 L564.32 126.45 L565.06 123.77 L565.8 128.65 L566.55 130.11 L567.29 129.44 L568.03 132.82 L568.77 129.37 L569.52 136.44 L570.26 132.69 L571 136.67 L571.74 139.18 L572.49 141.87 L573.23 147.49 L573.97 149.99 L574.71 151.5 L575.46 150.5 L576.2 144.69 L576.94 133.76 L577.68 127.84 L578.43 122.12 L579.17 111.97 L579.91 98.36 L580.65 88.54 L581.4 73.81 L582.14 58.55 L582.88 49.14 L583.62 39.17 L584.37 31.87 L585.11 28.55 L585.85 31.53 L586.59 40.18 L587.34 52.45 L588.08 63.67 L588.82 69.42 L589.56 76.38 L590.31 83.75 L591.05 86.12 L591.79 92.51 L592.53 95.25 L593.28 99.32 L594.02 99.29 L594.76 100.93 L595.51 103.85 L596.25 106.34 L596.99 106.49 L597.73 109.32 L598.48 112.05 L599.22 113.89 L599.96 115.8 L600.7 110.44 L601.45 111.74 L602.19 107.15 L602.93 117.91 L603.67 111.85 L604.42 113.69 L605.16 115.18 L605.9 110.81 L606.64 115.33 L607.39 114.29 L608.13 110.09 L608.87 115.28 L609.61 117.54 L610.36 110.27 L611.1 116.75 L611.84 115.37 L612.58 116.05 L613.33 116.01 L614.07 118.1 L614.81 114.46 L615.55 117.11 L616.3 114.04 L617.04 116.77 L617.78 113.08 L618.52 114.78 L619.27 119.2 L620.01 116.12 L620.75 114.68 L621.49 112.33 L622.24 113.19 L622.98 115.57 L623.72 117.38 L624.46 116.16 L625.21 116.41 L625.95 115.07 L626.69 118.43 L627.43 114.26 L628.18 113.89 L628.92 117.35 L629.66 115.38 L630.4 114.57 L631.15 113.87 L631.89 114.65 L632.63 116.77 L633.37 116.13 L634.12 112.39 L634.86 116.33 L635.6 115.74 L636.35 112.92 L637.09 117.18 L637.83 114.66 L638.57 114.54 L639.32 117.26 L640.06 118.52 L640.8 113.71 L641.54 116.42 L642.29 113.27 L643.03 120.93 L643.77 114.2 L644.51 118.26 L645.26 113.84 L646 117.35 L646.74 120.73 L647.48 109.31 L648.23 114.37 L648.97 116.62 L649.71 115.2 L650.45 113.82 L651.2 120.6 L651.94 115.63 L652.68 111.5 L653.42 117.5 L654.17 111.32 L654.91 118.22 L655.65 114.08 L656.39 115.82 L657.14 118.5 L657.88 115.76 L658.62 112.15 L659.36 111.42 L660.11 118.34 L660.85 117.28" fill="none" stroke="#cde5f3" stroke-width="1.05" stroke-linejoin="round"/>
<path d="M490.06 113.84 L490.81 117.81 L491.55 116.89 L492.29 117.21 L493.03 110.18 L493.78 114.83 L494.52 117.67 L495.26 117.22 L496 117.53 L496.75 109.47 L497.49 115.72 L498.23 116.45 L498.97 121.35 L499.72 112.89 L500.46 114.34 L501.2 115.17 L501.94 117.16 L502.69 113.93 L503.43 117.7 L504.17 113.01 L504.91 115.5 L505.66 113.55 L506.4 115.16 L507.14 113.08 L507.88 110.87 L508.63 117.29 L509.37 115.35 L510.11 113.25 L510.85 115.03 L511.6 116.89 L512.34 112.13 L513.08 114.17 L513.83 115.7 L514.57 115.63 L515.31 113.52 L516.05 109.24 L516.8 117.24 L517.54 115.01 L518.28 114.22 L519.02 113.48 L519.77 114.75 L520.51 113.07 L521.25 111.6 L521.99 112.25 L522.74 112.56 L523.48 112.5 L524.22 111.16 L524.96 115.44 L525.71 110.75 L526.45 115.45 L527.19 111.41 L527.93 114.67 L528.68 117.11 L529.42 114.28 L530.16 112.02 L530.9 113.88 L531.65 114.11 L532.39 109.58 L533.13 112.27 L533.87 114.11 L534.62 112.57 L535.36 113.88 L536.1 115.43 L536.84 115.5 L537.59 115.83 L538.33 115.07 L539.07 112.97 L539.81 113.63 L540.56 113.04 L541.3 112.98 L542.04 113.34 L542.78 109.69 L543.53 113.11 L544.27 113.94 L545.01 111.76 L545.75 114.16 L546.5 115.6 L547.24 114.14 L547.98 119.7 L548.72 108.66 L549.47 114.64 L550.21 110.98 L550.95 117.96 L551.69 122.25 L552.44 110.16 L553.18 116.8 L553.92 118.07 L554.67 116.44 L555.41 118.84 L556.15 112.5 L556.89 120.3 L557.64 119.53 L558.38 119.07 L559.12 117.99 L559.86 121.34 L560.61 119.08 L561.35 121.25 L562.09 119.99 L562.83 116.38 L563.58 122.3 L564.32 123.53 L565.06 125.59 L565.8 122.51 L566.55 125.48 L567.29 128.1 L568.03 128.12 L568.77 131.98 L569.52 135.07 L570.26 129.55 L571 128.61 L571.74 136.65 L572.49 139.93 L573.23 140.45 L573.97 142.25 L574.71 141.42 L575.46 145.04 L576.2 151.21 L576.94 146.45 L577.68 138.59 L578.43 132.67 L579.17 131.78 L579.91 124.56 L580.65 113.82 L581.4 104.14 L582.14 91.95 L582.88 77.22 L583.62 66.67 L584.37 55.27 L585.11 44.24 L585.85 37 L586.59 30.51 L587.34 31.03 L588.08 37.28 L588.82 47.22 L589.56 58.87 L590.31 66.28 L591.05 71.63 L591.79 77.27 L592.53 84.22 L593.28 89.55 L594.02 94.43 L594.76 97.33 L595.51 100.67 L596.25 101.82 L596.99 101.73 L597.73 103.71 L598.48 102.05 L599.22 108.03 L599.96 110.77 L600.7 111.81 L601.45 111.01 L602.19 111.5 L602.93 114.67 L603.67 112.88 L604.42 114.94 L605.16 114.83 L605.9 114.15 L606.64 116.95 L607.39 112.59 L608.13 113.24 L608.87 112.31 L609.61 112.47 L610.36 118.23 L611.1 118.82 L611.84 114.74 L612.58 116.13 L613.33 117.65 L614.07 116.82 L614.81 117.82 L615.55 111.93 L616.3 113.45 L617.04 116.1 L617.78 118.47 L618.52 115.29 L619.27 112.99 L620.01 114.2 L620.75 113.47 L621.49 113 L622.24 118.67 L622.98 113.57 L623.72 115.14 L624.46 120.29 L625.21 117.96 L625.95 115.94 L626.69 113.68 L627.43 116.15 L628.18 119.07 L628.92 116.69 L629.66 118.23 L630.4 115.45 L631.15 116.47 L631.89 114.76 L632.63 116.28 L633.37 118.38 L634.12 111.84 L634.86 115.13 L635.6 115.87 L636.35 113.93 L637.09 114.57 L637.83 117.21 L638.57 120.13 L639.32 116.85 L640.06 116.12 L640.8 111.63 L641.54 119.98 L642.29 115.55 L643.03 115.29 L643.77 112.69 L644.51 115.24 L645.26 112.76 L646 115.56 L646.74 116.52 L647.48 115.48 L648.23 116.08 L648.97 113.37 L649.71 118.85 L650.45 113.85 L651.2 111.06 L651.94 114.98 L652.68 113.6 L653.42 113.02 L654.17 114.59 L654.91 116.15 L655.65 112.62 L656.39 115.13 L657.14 118.89 L657.88 117.11 L658.62 115.11 L659.36 115.78 L660.11 115.2 L660.85 115.37" fill="none" stroke="#f6c5b6" stroke-width="1.05" stroke-linejoin="round"/>
<path d="M490.06 117.29 L490.81 115.26 L491.55 109.67 L492.29 115.34 L493.03 113.21 L493.78 116.85 L494.52 113.78 L495.26 115.55 L496 120.37 L496.75 112.59 L497.49 112.36 L498.23 111.62 L498.97 109.22 L499.72 110.41 L500.46 115.75 L501.2 113.3 L501.94 110.3 L502.69 111.19 L503.43 116.19 L504.17 112.8 L504.91 113.75 L505.66 115.38 L506.4 117.81 L507.14 119.17 L507.88 116.95 L508.63 114.78 L509.37 114.84 L510.11 118.69 L510.85 117.75 L511.6 113.54 L512.34 115.35 L513.08 114.9 L513.83 114.3 L514.57 112.94 L515.31 110.92 L516.05 112.79 L516.8 110.33 L517.54 116.94 L518.28 115.26 L519.02 111.05 L519.77 117.26 L520.51 116.02 L521.25 109.27 L521.99 118.25 L522.74 115.74 L523.48 118.73 L524.22 110.8 L524.96 115.01 L525.71 114.73 L526.45 114.18 L527.19 114.09 L527.93 116.19 L528.68 110.06 L529.42 110.65 L530.16 110.28 L530.9 112.27 L531.65 112.15 L532.39 114.47 L533.13 114.21 L533.87 113.63 L534.62 111.92 L535.36 112.47 L536.1 115.81 L536.84 115.36 L537.59 113.77 L538.33 112.77 L539.07 117.29 L539.81 112.17 L540.56 115.2 L541.3 116.47 L542.04 113.13 L542.78 115.84 L543.53 111.28 L544.27 116.51 L545.01 114.69 L545.75 110.56 L546.5 116.15 L547.24 112.6 L547.98 118.03 L548.72 113.55 L549.47 115.02 L550.21 116.35 L550.95 115.14 L551.69 116.84 L552.44 115.19 L553.18 118.43 L553.92 117.14 L554.67 117.96 L555.41 111.18 L556.15 120.91 L556.89 118.54 L557.64 114.53 L558.38 119.39 L559.12 120.64 L559.86 122.48 L560.61 117.72 L561.35 124.48 L562.09 120.87 L562.83 127.52 L563.58 122 L564.32 124.62 L565.06 122.81 L565.8 121.8 L566.55 128 L567.29 128.53 L568.03 131.1 L568.77 130.61 L569.52 128.4 L570.26 127.08 L571 130.77 L571.74 132.12 L572.49 133.4 L573.23 138.35 L573.97 139.63 L574.71 140.3 L575.46 144.41 L576.2 146.95 L576.94 148.02 L577.68 144.45 L578.43 137.79 L579.17 129.22 L579.91 122.91 L580.65 120.52 L581.4 111.12 L582.14 100.74 L582.88 84.73 L583.62 71.94 L584.37 60.82 L585.11 49.26 L585.85 39.43 L586.59 31.71 L587.34 26.91 L588.08 27.44 L588.82 31.44 L589.56 40.82 L590.31 54.24 L591.05 64.25 L591.79 70.49 L592.53 74.66 L593.28 84.34 L594.02 89.44 L594.76 92.94 L595.51 93.83 L596.25 98.03 L596.99 101.31 L597.73 100.29 L598.48 99.21 L599.22 106.06 L599.96 108.03 L600.7 108.32 L601.45 111.57 L602.19 108.95 L602.93 110.89 L603.67 110.97 L604.42 113.59 L605.16 116.47 L605.9 112.37 L606.64 118.18 L607.39 117.14 L608.13 115.55 L608.87 115.22 L609.61 118.2 L610.36 113.66 L611.1 113.96 L611.84 111.81 L612.58 115.6 L613.33 117.79 L614.07 115.93 L614.81 115.74 L615.55 114.3 L616.3 115.24 L617.04 111.45 L617.78 117.43 L618.52 113.95 L619.27 112.31 L620.01 113.17 L620.75 113.01 L621.49 117.05 L622.24 117.54 L622.98 111.75 L623.72 117.23 L624.46 117.15 L625.21 113.63 L625.95 111.46 L626.69 113.26 L627.43 113.54 L628.18 115.9 L628.92 114.24 L629.66 110.24 L630.4 115.68 L631.15 111.46 L631.89 117.32 L632.63 112.27 L633.37 113.51 L634.12 113.14 L634.86 113.9 L635.6 118.33 L636.35 117.27 L637.09 116.68 L637.83 116.01 L638.57 111.54 L639.32 114.01 L640.06 113.95 L640.8 112.93 L641.54 116.51 L642.29 113.52 L643.03 113.6 L643.77 112.8 L644.51 110.38 L645.26 116.75 L646 118.52 L646.74 115.76 L647.48 113 L648.23 108.86 L648.97 115.77 L649.71 118.28 L650.45 116.08 L651.2 117.59 L651.94 118.92 L652.68 118.08 L653.42 114.33 L654.17 117.91 L654.91 117.26 L655.65 111.71 L656.39 114.43 L657.14 111.99 L657.88 115.15 L658.62 116.8 L659.36 112.86 L660.11 110.49 L660.85 118.55" fill="none" stroke="#f28a72" stroke-width="1.05" stroke-linejoin="round"/>
<path d="M490.06 116.35 L490.81 118.93 L491.55 112.18 L492.29 117.85 L493.03 120.24 L493.78 120.03 L494.52 114.66 L495.26 115.77 L496 114.71 L496.75 117.43 L497.49 117.48 L498.23 115.15 L498.97 111.64 L499.72 116.64 L500.46 113.69 L501.2 116.29 L501.94 115.37 L502.69 118.59 L503.43 117.39 L504.17 113.54 L504.91 115.42 L505.66 118.78 L506.4 113.22 L507.14 115.51 L507.88 117.3 L508.63 117.42 L509.37 115.61 L510.11 111.16 L510.85 111.27 L511.6 114.85 L512.34 115.15 L513.08 120.3 L513.83 112.08 L514.57 116.85 L515.31 115.93 L516.05 110.04 L516.8 112.06 L517.54 114.39 L518.28 112.77 L519.02 113.56 L519.77 115.03 L520.51 111.93 L521.25 114.97 L521.99 112.29 L522.74 112.49 L523.48 115.06 L524.22 112.38 L524.96 114.42 L525.71 117.56 L526.45 113.77 L527.19 113.33 L527.93 115.44 L528.68 112.78 L529.42 116.25 L530.16 110.56 L530.9 115.11 L531.65 112.38 L532.39 111.68 L533.13 117.83 L533.87 111.53 L534.62 117.77 L535.36 115.13 L536.1 117.04 L536.84 111.21 L537.59 116.44 L538.33 117.08 L539.07 113.33 L539.81 113.34 L540.56 119.6 L541.3 114.19 L542.04 112.83 L542.78 112.42 L543.53 115.11 L544.27 114.96 L545.01 114.74 L545.75 118.61 L546.5 113.87 L547.24 115.99 L547.98 118.57 L548.72 112.88 L549.47 118.02 L550.21 120.18 L550.95 112.8 L551.69 113.69 L552.44 114.11 L553.18 112.46 L553.92 118.28 L554.67 113.05 L555.41 119.02 L556.15 121.63 L556.89 114.59 L557.64 118.04 L558.38 114.53 L559.12 121.35 L559.86 118.09 L560.61 119.61 L561.35 120.81 L562.09 122.45 L562.83 120.82 L563.58 122.24 L564.32 121.5 L565.06 123.76 L565.8 121.43 L566.55 125.25 L567.29 121.4 L568.03 125.87 L568.77 132.7 L569.52 129.45 L570.26 127.47 L571 132.28 L571.74 130.71 L572.49 130.67 L573.23 134.45 L573.97 139.51 L574.71 140.56 L575.46 142.28 L576.2 143.9 L576.94 144.92 L577.68 146.07 L578.43 137.82 L579.17 129.92 L579.91 123.43 L580.65 119.22 L581.4 116.46 L582.14 103.34 L582.88 91.48 L583.62 77.96 L584.37 65.49 L585.11 55.23 L585.85 44.15 L586.59 35 L587.34 30.24 L588.08 25.58 L588.82 30.18 L589.56 35.6 L590.31 47.82 L591.05 58.95 L591.79 68.13 L592.53 71.41 L593.28 80.76 L594.02 85.88 L594.76 88.07 L595.51 94.14 L596.25 93.91 L596.99 96.39 L597.73 100.21 L598.48 95.9 L599.22 103.81 L599.96 103.39 L600.7 103.8 L601.45 107.58 L602.19 111.5 L602.93 109.55 L603.67 114.26 L604.42 109.03 L605.16 109.15 L605.9 116.42 L606.64 113.98 L607.39 115.56 L608.13 111.52 L608.87 115.61 L609.61 114.45 L610.36 115.52 L611.1 114.16 L611.84 117.14 L612.58 112.81 L613.33 112.16 L614.07 111.02 L614.81 117.44 L615.55 112.95 L616.3 112.28 L617.04 112.58 L617.78 113.81 L618.52 111.86 L619.27 114.24 L620.01 113.46 L620.75 113.66 L621.49 112.69 L622.24 115.09 L622.98 113.9 L623.72 115.29 L624.46 115.62 L625.21 115.84 L625.95 109.77 L626.69 113.75 L627.43 113.14 L628.18 116.92 L628.92 111.29 L629.66 113.38 L630.4 114.41 L631.15 114.32 L631.89 117.52 L632.63 114.09 L633.37 117.48 L634.12 111.66 L634.86 110.84 L635.6 118.13 L636.35 116.26 L637.09 116.39 L637.83 115.53 L638.57 116.41 L639.32 112.34 L640.06 117.54 L640.8 113.99 L641.54 117.65 L642.29 115.5 L643.03 110.56 L643.77 112.21 L644.51 118.02 L645.26 114.99 L646 114.38 L646.74 115.91 L647.48 114.32 L648.23 114.04 L648.97 115.59 L649.71 115.7 L650.45 119 L651.2 115.47 L651.94 119.88 L652.68 119.7 L653.42 119.5 L654.17 117.93 L654.91 115.7 L655.65 115.72 L656.39 115.06 L657.14 113.65 L657.88 115.25 L658.62 113.88 L659.36 119.35 L660.11 116.7 L660.85 114.35" fill="none" stroke="#d2332b" stroke-width="1.05" stroke-linejoin="round"/>
<path d="M490.06 110.27 L490.81 114.71 L491.55 113.81 L492.29 112.17 L493.03 112.02 L493.78 109.32 L494.52 116.06 L495.26 114.51 L496 120.84 L496.75 114.54 L497.49 114.23 L498.23 118.02 L498.97 114.85 L499.72 114.91 L500.46 113.59 L501.2 113 L501.94 118.02 L502.69 116.8 L503.43 118.49 L504.17 113.51 L504.91 114.39 L505.66 112.18 L506.4 116.6 L507.14 110.91 L507.88 115.58 L508.63 116.84 L509.37 117.57 L510.11 111.91 L510.85 116.76 L511.6 112.41 L512.34 112.29 L513.08 110.91 L513.83 116.84 L514.57 118.01 L515.31 112.61 L516.05 112.2 L516.8 113.19 L517.54 120.01 L518.28 116.39 L519.02 112.67 L519.77 109.66 L520.51 112.34 L521.25 116.8 L521.99 118.42 L522.74 113.29 L523.48 112.26 L524.22 112.68 L524.96 109.37 L525.71 116.07 L526.45 111.27 L527.19 116.42 L527.93 109.76 L528.68 110.81 L529.42 114.56 L530.16 112.04 L530.9 115.76 L531.65 113.92 L532.39 111.1 L533.13 115.44 L533.87 116.01 L534.62 109.44 L535.36 118.47 L536.1 115.34 L536.84 116.05 L537.59 109.84 L538.33 112.68 L539.07 113.67 L539.81 117.21 L540.56 111.26 L541.3 112.78 L542.04 110.18 L542.78 114.63 L543.53 116.21 L544.27 111.52 L545.01 114.33 L545.75 117.18 L546.5 119.97 L547.24 117.99 L547.98 115.9 L548.72 114.04 L549.47 114.87 L550.21 115.78 L550.95 117.98 L551.69 117.77 L552.44 122.16 L553.18 119.12 L553.92 116.13 L554.67 122.68 L555.41 121.54 L556.15 119.81 L556.89 118.16 L557.64 115.73 L558.38 118.13 L559.12 123.16 L559.86 119.47 L560.61 118.68 L561.35 122.81 L562.09 123.45 L562.83 124.91 L563.58 125.68 L564.32 128.2 L565.06 123.59 L565.8 128.78 L566.55 124.95 L567.29 129.9 L568.03 129.62 L568.77 130.77 L569.52 133.5 L570.26 132.25 L571 136.13 L571.74 136.89 L572.49 136.59 L573.23 136.5 L573.97 137.74 L574.71 140.88 L575.46 144.18 L576.2 145.57 L576.94 149.07 L577.68 139.83 L578.43 134.52 L579.17 127.5 L579.91 123.64 L580.65 119.66 L581.4 114.71 L582.14 106.67 L582.88 99.6 L583.62 87.73 L584.37 78.75 L585.11 68.25 L585.85 61.94 L586.59 54.33 L587.34 47.18 L588.08 41.98 L588.82 38.48 L589.56 38.37 L590.31 39.72 L591.05 47.92 L591.79 53.29 L592.53 66.02 L593.28 71.76 L594.02 76.11 L594.76 79.75 L595.51 84.7 L596.25 93.96 L596.99 97.06 L597.73 95.67 L598.48 100.96 L599.22 96.04 L599.96 96.79 L600.7 101.74 L601.45 102.26 L602.19 104.38 L602.93 107.44 L603.67 115.4 L604.42 107.59 L605.16 110.18 L605.9 111.46 L606.64 111.3 L607.39 114.13 L608.13 116.59 L608.87 109.72 L609.61 113.41 L610.36 112.65 L611.1 114.36 L611.84 110.01 L612.58 109.62 L613.33 108.41 L614.07 115.35 L614.81 114.65 L615.55 114.47 L616.3 108.72 L617.04 113.6 L617.78 112.78 L618.52 111.28 L619.27 112.55 L620.01 116.48 L620.75 116.17 L621.49 114.86 L622.24 116.19 L622.98 113.54 L623.72 115.19 L624.46 115.15 L625.21 116.4 L625.95 114.92 L626.69 114.76 L627.43 114.79 L628.18 113.57 L628.92 120.49 L629.66 116.37 L630.4 116.17 L631.15 120.64 L631.89 118.51 L632.63 111.41 L633.37 116.82 L634.12 117.17 L634.86 119.69 L635.6 118.34 L636.35 117.04 L637.09 112.38 L637.83 113.13 L638.57 115.87 L639.32 116.45 L640.06 112.8 L640.8 114.34 L641.54 114.31 L642.29 115.42 L643.03 116.1 L643.77 114.61 L644.51 112.34 L645.26 118.3 L646 119.15 L646.74 115.08 L647.48 117.8 L648.23 116.41 L648.97 116.93 L649.71 116.51 L650.45 113.53 L651.2 116.75 L651.94 117.8 L652.68 113.23 L653.42 120.11 L654.17 120.41 L654.91 119.78 L655.65 120.18 L656.39 117.19 L657.14 114.6 L657.88 113.98 L658.62 113.47 L659.36 115.71 L660.11 115.35 L660.85 117.05" fill="none" stroke="#7c2626" stroke-width="1.05" stroke-linejoin="round"/>
<path d="M475.5 14.4H496.5" stroke="#3a4d7e" stroke-width="1.2"/>
<text x="499.3" y="17.7" font-size="9.3" text-anchor="start" font-weight="bold" font-style="normal" fill="#111" >140 K</text>
<path d="M475.5 26.05H496.5" stroke="#5d8fcf" stroke-width="1.2"/>
<text x="499.3" y="29.35" font-size="9.3" text-anchor="start" font-weight="bold" font-style="normal" fill="#111" >160 K</text>
<path d="M475.5 37.7H496.5" stroke="#86bfe6" stroke-width="1.2"/>
<text x="499.3" y="41" font-size="9.3" text-anchor="start" font-weight="bold" font-style="normal" fill="#111" >180 K</text>
<path d="M475.5 49.35H496.5" stroke="#cde5f3" stroke-width="1.2"/>
<text x="499.3" y="52.65" font-size="9.3" text-anchor="start" font-weight="bold" font-style="normal" fill="#111" >200 K</text>
<path d="M475.5 61H496.5" stroke="#f6c5b6" stroke-width="1.2"/>
<text x="499.3" y="64.3" font-size="9.3" text-anchor="start" font-weight="bold" font-style="normal" fill="#111" >220 K</text>
<path d="M475.5 72.65H496.5" stroke="#f28a72" stroke-width="1.2"/>
<text x="499.3" y="75.95" font-size="9.3" text-anchor="start" font-weight="bold" font-style="normal" fill="#111" >240 K</text>
<path d="M475.5 84.3H496.5" stroke="#d2332b" stroke-width="1.2"/>
<text x="499.3" y="87.6" font-size="9.3" text-anchor="start" font-weight="bold" font-style="normal" fill="#111" >260 K</text>
<path d="M475.5 95.95H496.5" stroke="#7c2626" stroke-width="1.2"/>
<text x="499.3" y="99.25" font-size="9.3" text-anchor="start" font-weight="bold" font-style="normal" fill="#111" >280 K</text>
<rect x="222.4" y="206.5" width="201.1" height="161.75" fill="none" stroke="#1c1c1c" stroke-width="1.2"/>
<path d="M262.62 368.25v-3.0M262.62 206.5v3.0M302.84 368.25v-3.0M302.84 206.5v3.0M343.06 368.25v-3.0M343.06 206.5v3.0M383.28 368.25v-3.0M383.28 206.5v3.0" stroke="#1c1c1c" stroke-width="1.2" fill="none"/>
<path d="M222.4 335.9h3.0M423.5 335.9h-3.0M222.4 303.55h3.0M423.5 303.55h-3.0M222.4 271.2h3.0M423.5 271.2h-3.0M222.4 238.85h3.0M423.5 238.85h-3.0" stroke="#1c1c1c" stroke-width="1.2" fill="none"/>
<text transform="translate(222.4 380.2) scale(1 1.08)" font-size="10.6" text-anchor="middle" font-weight="bold" font-style="normal" fill="#111" >120</text>
<text transform="translate(262.62 380.2) scale(1 1.08)" font-size="10.6" text-anchor="middle" font-weight="bold" font-style="normal" fill="#111" >160</text>
<text transform="translate(302.84 380.2) scale(1 1.08)" font-size="10.6" text-anchor="middle" font-weight="bold" font-style="normal" fill="#111" >200</text>
<text transform="translate(343.06 380.2) scale(1 1.08)" font-size="10.6" text-anchor="middle" font-weight="bold" font-style="normal" fill="#111" >240</text>
<text transform="translate(383.28 380.2) scale(1 1.08)" font-size="10.6" text-anchor="middle" font-weight="bold" font-style="normal" fill="#111" >280</text>
<text transform="translate(423.5 380.2) scale(1 1.08)" font-size="10.6" text-anchor="middle" font-weight="bold" font-style="normal" fill="#111" >320</text>
<text transform="translate(218.8 371.9) scale(1 1.08)" font-size="10.6" text-anchor="end" font-weight="bold" font-style="normal" fill="#111" >0</text>
<text transform="translate(218.8 339.55) scale(1 1.08)" font-size="10.6" text-anchor="end" font-weight="bold" font-style="normal" fill="#111" >20</text>
<text transform="translate(218.8 307.2) scale(1 1.08)" font-size="10.6" text-anchor="end" font-weight="bold" font-style="normal" fill="#111" >40</text>
<text transform="translate(218.8 274.85) scale(1 1.08)" font-size="10.6" text-anchor="end" font-weight="bold" font-style="normal" fill="#111" >60</text>
<text transform="translate(218.8 242.5) scale(1 1.08)" font-size="10.6" text-anchor="end" font-weight="bold" font-style="normal" fill="#111" >80</text>
<text transform="translate(218.8 210.15) scale(1 1.08)" font-size="10.6" text-anchor="end" font-weight="bold" font-style="normal" fill="#111" >100</text>
<text x="187.2" y="200.2" font-size="14.2" text-anchor="start" font-weight="bold" font-style="normal" fill="#111" >d</text>
<text transform="translate(192.8 313) rotate(-90)" font-size="13.5" font-weight="bold" fill="#111"><tspan font-style="italic">V</tspan><tspan font-style="italic" font-size="9" dy="2.8">ISHE</tspan><tspan dy="-2.8"> (µV)</tspan></text>
<text x="308.1" y="397.7" font-size="13.5" font-weight="bold" fill="#111"><tspan font-style="italic">T</tspan> (K)</text>
<path d="M242.51 270.07 L282.73 276.54 L322.95 277.83 L343.06 271.52 L383.28 264.89 L403.39 271.2" fill="none" stroke="#2f5ca8" stroke-width="1.15"/>
<path d="M242.51 265.22V274.92M240.71 265.22h3.6M240.71 274.92h3.6M282.73 270.07V283.01M280.93 270.07h3.6M280.93 283.01h3.6M322.95 272.66V283.01M321.15 272.66h3.6M321.15 283.01h3.6M343.06 260.52V282.52M341.26 260.52h3.6M341.26 282.52h3.6M383.28 255.83V273.95M381.48 255.83h3.6M381.48 273.95h3.6M403.39 263.76V278.64M401.59 263.76h3.6M401.59 278.64h3.6" fill="none" stroke="#2f5ca8" stroke-width="1.1"/>
<circle cx="242.51" cy="270.07" r="2.0" fill="url(#sd1)"/>
<circle cx="282.73" cy="276.54" r="2.0" fill="url(#sd1)"/>
<circle cx="322.95" cy="277.83" r="2.0" fill="url(#sd1)"/>
<circle cx="343.06" cy="271.52" r="2.0" fill="url(#sd1)"/>
<circle cx="383.28" cy="264.89" r="2.0" fill="url(#sd1)"/>
<circle cx="403.39" cy="271.2" r="2.0" fill="url(#sd1)"/>
<path d="M242.51 280.1 L282.73 282.52 L322.95 281.55 L343.06 282.2 L383.28 272.98 L403.39 276.21" fill="none" stroke="#5ea3d8" stroke-width="1.15"/>
<path d="M242.51 275.24V284.95M240.71 275.24h3.6M240.71 284.95h3.6M282.73 277.67V287.38M280.93 277.67h3.6M280.93 287.38h3.6M322.95 277.51V285.6M321.15 277.51h3.6M321.15 285.6h3.6M343.06 277.35V287.05M341.26 277.35h3.6M341.26 287.05h3.6M383.28 268.94V277.02M381.48 268.94h3.6M381.48 277.02h3.6M403.39 272.17V280.26M401.59 272.17h3.6M401.59 280.26h3.6" fill="none" stroke="#5ea3d8" stroke-width="1.1"/>
<circle cx="242.51" cy="280.1" r="2.0" fill="url(#sd2)"/>
<circle cx="282.73" cy="282.52" r="2.0" fill="url(#sd2)"/>
<circle cx="322.95" cy="281.55" r="2.0" fill="url(#sd2)"/>
<circle cx="343.06" cy="282.2" r="2.0" fill="url(#sd2)"/>
<circle cx="383.28" cy="272.98" r="2.0" fill="url(#sd2)"/>
<circle cx="403.39" cy="276.21" r="2.0" fill="url(#sd2)"/>
<path d="M242.51 283.65 L282.73 288.35 L322.95 287.21 L343.06 283.01 L383.28 280.1 L403.39 281.23" fill="none" stroke="#f0705a" stroke-width="1.15"/>
<path d="M242.51 273.95V293.36M240.71 273.95h3.6M240.71 293.36h3.6M282.73 278.64V298.05M280.93 278.64h3.6M280.93 298.05h3.6M322.95 281.39V293.04M321.15 281.39h3.6M321.15 293.04h3.6M343.06 276.54V289.48M341.26 276.54h3.6M341.26 289.48h3.6M383.28 277.67V282.52M381.48 277.67h3.6M381.48 282.52h3.6M403.39 277.02V285.43M401.59 277.02h3.6M401.59 285.43h3.6" fill="none" stroke="#f0705a" stroke-width="1.1"/>
<circle cx="242.51" cy="283.65" r="2.0" fill="url(#sd3)"/>
<circle cx="282.73" cy="288.35" r="2.0" fill="url(#sd3)"/>
<circle cx="322.95" cy="287.21" r="2.0" fill="url(#sd3)"/>
<circle cx="343.06" cy="283.01" r="2.0" fill="url(#sd3)"/>
<circle cx="383.28" cy="280.1" r="2.0" fill="url(#sd3)"/>
<circle cx="403.39" cy="281.23" r="2.0" fill="url(#sd3)"/>
<path d="M242.51 319.56 L282.73 326.19 L322.95 324.42 L343.06 327 L383.28 321.67 L403.39 321.34" fill="none" stroke="#d83a34" stroke-width="1.15"/>
<path d="M242.51 308.24V330.89M240.71 308.24h3.6M240.71 330.89h3.6M282.73 316.49V335.9M280.93 316.49h3.6M280.93 335.9h3.6M322.95 316.33V332.5M321.15 316.33h3.6M321.15 332.5h3.6M343.06 318.92V335.09M341.26 318.92h3.6M341.26 335.09h3.6M383.28 315.2V328.14M381.48 315.2h3.6M381.48 328.14h3.6M403.39 320.05V322.64M401.59 320.05h3.6M401.59 322.64h3.6" fill="none" stroke="#d83a34" stroke-width="1.1"/>
<circle cx="242.51" cy="319.56" r="2.0" fill="url(#sd4)"/>
<circle cx="282.73" cy="326.19" r="2.0" fill="url(#sd4)"/>
<circle cx="322.95" cy="324.42" r="2.0" fill="url(#sd4)"/>
<circle cx="343.06" cy="327" r="2.0" fill="url(#sd4)"/>
<circle cx="383.28" cy="321.67" r="2.0" fill="url(#sd4)"/>
<circle cx="403.39" cy="321.34" r="2.0" fill="url(#sd4)"/>
<path d="M227.9 217H245.6" stroke="#2f5ca8" stroke-width="1"/>
<circle cx="236.6" cy="217" r="2.0" fill="url(#sd1)"/>
<text x="247.6" y="219.6" font-size="10" text-anchor="start" font-weight="bold" font-style="normal" fill="#111" >54.8 nm</text>
<path d="M227.9 229.5H245.6" stroke="#5ea3d8" stroke-width="1"/>
<circle cx="236.6" cy="229.5" r="2.0" fill="url(#sd2)"/>
<text x="247.6" y="232.1" font-size="10" text-anchor="start" font-weight="bold" font-style="normal" fill="#111" >62.1 nm</text>
<path d="M227.9 242H245.6" stroke="#f0705a" stroke-width="1"/>
<circle cx="236.6" cy="242" r="2.0" fill="url(#sd3)"/>
<text x="247.6" y="244.6" font-size="10" text-anchor="start" font-weight="bold" font-style="normal" fill="#111" >78.7 nm</text>
<path d="M227.9 254.5H245.6" stroke="#d83a34" stroke-width="1"/>
<circle cx="236.6" cy="254.5" r="2.0" fill="url(#sd4)"/>
<text x="247.6" y="257.1" font-size="10" text-anchor="start" font-weight="bold" font-style="normal" fill="#111" >111 nm</text>
<rect x="473.1" y="206.5" width="201.3" height="161.4" fill="none" stroke="#1c1c1c" stroke-width="1.2"/>
<path d="M513.36 367.9v-3.0M513.36 206.5v3.0M553.62 367.9v-3.0M553.62 206.5v3.0M593.88 367.9v-3.0M593.88 206.5v3.0M634.14 367.9v-3.0M634.14 206.5v3.0" stroke="#1c1c1c" stroke-width="1.2" fill="none"/>
<path d="M473.1 346.38h3.0M674.4 346.38h-3.0M473.1 324.86h3.0M674.4 324.86h-3.0M473.1 303.34h3.0M674.4 303.34h-3.0M473.1 281.82h3.0M674.4 281.82h-3.0M473.1 260.3h3.0M674.4 260.3h-3.0M473.1 238.78h3.0M674.4 238.78h-3.0M473.1 217.26h3.0M674.4 217.26h-3.0" stroke="#1c1c1c" stroke-width="1.2" fill="none"/>
<text transform="translate(473.1 380.2) scale(1 1.08)" font-size="10.6" text-anchor="middle" font-weight="bold" font-style="normal" fill="#111" >120</text>
<text transform="translate(513.36 380.2) scale(1 1.08)" font-size="10.6" text-anchor="middle" font-weight="bold" font-style="normal" fill="#111" >160</text>
<text transform="translate(553.62 380.2) scale(1 1.08)" font-size="10.6" text-anchor="middle" font-weight="bold" font-style="normal" fill="#111" >200</text>
<text transform="translate(593.88 380.2) scale(1 1.08)" font-size="10.6" text-anchor="middle" font-weight="bold" font-style="normal" fill="#111" >240</text>
<text transform="translate(634.14 380.2) scale(1 1.08)" font-size="10.6" text-anchor="middle" font-weight="bold" font-style="normal" fill="#111" >280</text>
<text transform="translate(674.4 380.2) scale(1 1.08)" font-size="10.6" text-anchor="middle" font-weight="bold" font-style="normal" fill="#111" >320</text>
<text transform="translate(469.6 371.55) scale(1 1.08)" font-size="10.6" text-anchor="end" font-weight="bold" font-style="normal" fill="#111" >0</text>
<text transform="translate(469.6 350.03) scale(1 1.08)" font-size="10.6" text-anchor="end" font-weight="bold" font-style="normal" fill="#111" >20</text>
<text transform="translate(469.6 328.51) scale(1 1.08)" font-size="10.6" text-anchor="end" font-weight="bold" font-style="normal" fill="#111" >40</text>
<text transform="translate(469.6 306.99) scale(1 1.08)" font-size="10.6" text-anchor="end" font-weight="bold" font-style="normal" fill="#111" >60</text>
<text transform="translate(469.6 285.47) scale(1 1.08)" font-size="10.6" text-anchor="end" font-weight="bold" font-style="normal" fill="#111" >80</text>
<text transform="translate(469.6 263.95) scale(1 1.08)" font-size="10.6" text-anchor="end" font-weight="bold" font-style="normal" fill="#111" >100</text>
<text transform="translate(469.6 242.43) scale(1 1.08)" font-size="10.6" text-anchor="end" font-weight="bold" font-style="normal" fill="#111" >120</text>
<text transform="translate(469.6 220.91) scale(1 1.08)" font-size="10.6" text-anchor="end" font-weight="bold" font-style="normal" fill="#111" >140</text>
<text x="444.4" y="200.3" font-size="14.2" text-anchor="start" font-weight="bold" font-style="normal" fill="#111" >e</text>
<text transform="translate(444.5 310.2) rotate(-90)" font-size="13.5" font-weight="bold" fill="#111"><tspan font-style="italic" font-weight="normal" font-size="14.5">λ</tspan><tspan font-size="9.5" dy="2.2" font-weight="normal">s</tspan><tspan dy="-2.2"> (nm)</tspan></text>
<text x="557.4" y="397.7" font-size="13.5" font-weight="bold" fill="#111"><tspan font-style="italic">T</tspan> (K)</text>
<path d="M493.23 241.15V253.84M491.33 241.15h3.8M491.33 253.84h3.8M533.49 255.67V266.65M531.59 255.67h3.8M531.59 266.65h3.8M573.75 244.16V258.79M571.85 244.16h3.8M571.85 258.79h3.8M593.88 262.67V273M591.98 262.67h3.8M591.98 273h3.8M614.01 251.05V262.02M612.11 251.05h3.8M612.11 262.02h3.8M634.14 261.48V274.18M632.24 261.48h3.8M632.24 274.18h3.8M654.27 251.05V262.02M652.37 251.05h3.8M652.37 262.02h3.8" fill="none" stroke="#111" stroke-width="1"/>
<circle cx="493.23" cy="247.5" r="2.1" fill="url(#gk)"/>
<circle cx="533.49" cy="261.16" r="2.1" fill="url(#gk)"/>
<circle cx="573.75" cy="251.48" r="2.1" fill="url(#gk)"/>
<circle cx="593.88" cy="267.83" r="2.1" fill="url(#gk)"/>
<circle cx="614.01" cy="256.53" r="2.1" fill="url(#gk)"/>
<circle cx="634.14" cy="267.83" r="2.1" fill="url(#gk)"/>
<circle cx="654.27" cy="256.53" r="2.1" fill="url(#gk)"/></svg>
</body></html>
